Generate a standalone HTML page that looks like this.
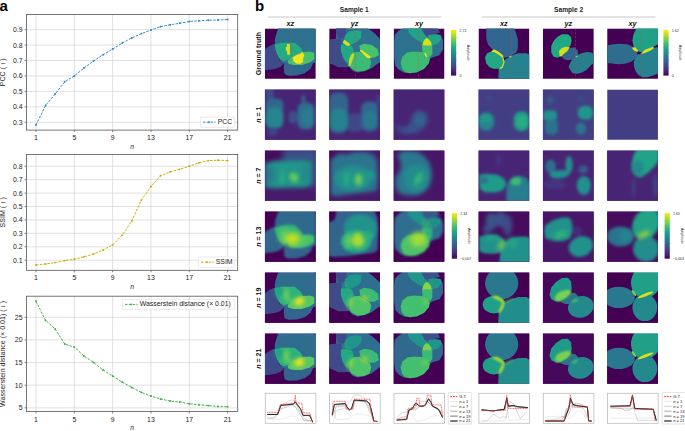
<!DOCTYPE html>
<html><head><meta charset="utf-8"><style>
html,body{margin:0;padding:0;background:#fff;}
svg{display:block;}
</style></head><body>
<svg width="685" height="431" viewBox="0 0 685 431">
<defs><linearGradient id="vgrad" x1="0" y1="1" x2="0" y2="0"><stop offset="0.000" stop-color="#440154"/><stop offset="0.050" stop-color="#471365"/><stop offset="0.100" stop-color="#482475"/><stop offset="0.150" stop-color="#463480"/><stop offset="0.200" stop-color="#414487"/><stop offset="0.250" stop-color="#3b528b"/><stop offset="0.300" stop-color="#355f8d"/><stop offset="0.350" stop-color="#2f6c8e"/><stop offset="0.400" stop-color="#2a788e"/><stop offset="0.450" stop-color="#25848e"/><stop offset="0.500" stop-color="#21918c"/><stop offset="0.550" stop-color="#1e9c89"/><stop offset="0.600" stop-color="#22a884"/><stop offset="0.650" stop-color="#2fb47c"/><stop offset="0.700" stop-color="#44bf70"/><stop offset="0.750" stop-color="#5ec962"/><stop offset="0.800" stop-color="#7ad151"/><stop offset="0.850" stop-color="#9bd93c"/><stop offset="0.900" stop-color="#bddf26"/><stop offset="0.950" stop-color="#dfe318"/><stop offset="1.000" stop-color="#fde725"/></linearGradient><clipPath id="ic" clipPathUnits="userSpaceOnUse"><rect x="0" y="0" width="50.8" height="50.35"/></clipPath><filter id="bl0_5" filterUnits="userSpaceOnUse" x="-30" y="-30" width="110" height="110" color-interpolation-filters="sRGB"><feGaussianBlur stdDeviation="0.5"/></filter><filter id="bl0_7" filterUnits="userSpaceOnUse" x="-30" y="-30" width="110" height="110" color-interpolation-filters="sRGB"><feGaussianBlur stdDeviation="0.7"/></filter><filter id="bl0_9" filterUnits="userSpaceOnUse" x="-30" y="-30" width="110" height="110" color-interpolation-filters="sRGB"><feGaussianBlur stdDeviation="0.9"/></filter><filter id="bl1_0" filterUnits="userSpaceOnUse" x="-30" y="-30" width="110" height="110" color-interpolation-filters="sRGB"><feGaussianBlur stdDeviation="1"/></filter><filter id="bl1_2" filterUnits="userSpaceOnUse" x="-30" y="-30" width="110" height="110" color-interpolation-filters="sRGB"><feGaussianBlur stdDeviation="1.2"/></filter><filter id="bl1_4" filterUnits="userSpaceOnUse" x="-30" y="-30" width="110" height="110" color-interpolation-filters="sRGB"><feGaussianBlur stdDeviation="1.4"/></filter><filter id="bl1_5" filterUnits="userSpaceOnUse" x="-30" y="-30" width="110" height="110" color-interpolation-filters="sRGB"><feGaussianBlur stdDeviation="1.5"/></filter><filter id="bl1_6" filterUnits="userSpaceOnUse" x="-30" y="-30" width="110" height="110" color-interpolation-filters="sRGB"><feGaussianBlur stdDeviation="1.6"/></filter><filter id="bl1_7" filterUnits="userSpaceOnUse" x="-30" y="-30" width="110" height="110" color-interpolation-filters="sRGB"><feGaussianBlur stdDeviation="1.7"/></filter><filter id="bl1_8" filterUnits="userSpaceOnUse" x="-30" y="-30" width="110" height="110" color-interpolation-filters="sRGB"><feGaussianBlur stdDeviation="1.8"/></filter><filter id="bl2_0" filterUnits="userSpaceOnUse" x="-30" y="-30" width="110" height="110" color-interpolation-filters="sRGB"><feGaussianBlur stdDeviation="2"/></filter><filter id="bl2_2" filterUnits="userSpaceOnUse" x="-30" y="-30" width="110" height="110" color-interpolation-filters="sRGB"><feGaussianBlur stdDeviation="2.2"/></filter><filter id="bl2_4" filterUnits="userSpaceOnUse" x="-30" y="-30" width="110" height="110" color-interpolation-filters="sRGB"><feGaussianBlur stdDeviation="2.4"/></filter><filter id="bl2_5" filterUnits="userSpaceOnUse" x="-30" y="-30" width="110" height="110" color-interpolation-filters="sRGB"><feGaussianBlur stdDeviation="2.5"/></filter><filter id="bl2_6" filterUnits="userSpaceOnUse" x="-30" y="-30" width="110" height="110" color-interpolation-filters="sRGB"><feGaussianBlur stdDeviation="2.6"/></filter><filter id="bl2_8" filterUnits="userSpaceOnUse" x="-30" y="-30" width="110" height="110" color-interpolation-filters="sRGB"><feGaussianBlur stdDeviation="2.8"/></filter><filter id="bl3_0" filterUnits="userSpaceOnUse" x="-30" y="-30" width="110" height="110" color-interpolation-filters="sRGB"><feGaussianBlur stdDeviation="3"/></filter></defs>
<rect width="685" height="431" fill="#fff"/>
<text x="-0.4" y="10.9" font-size="15" font-weight="bold" font-family="Liberation Sans, sans-serif" fill="#000">a</text>
<line x1="36.00" y1="14.40" x2="36.00" y2="130.10" stroke="#d4d4d4" stroke-width="0.7"/>
<line x1="74.32" y1="14.40" x2="74.32" y2="130.10" stroke="#d4d4d4" stroke-width="0.7"/>
<line x1="112.64" y1="14.40" x2="112.64" y2="130.10" stroke="#d4d4d4" stroke-width="0.7"/>
<line x1="150.96" y1="14.40" x2="150.96" y2="130.10" stroke="#d4d4d4" stroke-width="0.7"/>
<line x1="189.28" y1="14.40" x2="189.28" y2="130.10" stroke="#d4d4d4" stroke-width="0.7"/>
<line x1="227.60" y1="14.40" x2="227.60" y2="130.10" stroke="#d4d4d4" stroke-width="0.7"/>
<line x1="26.50" y1="122.30" x2="237.70" y2="122.30" stroke="#d4d4d4" stroke-width="0.7"/>
<line x1="26.50" y1="106.85" x2="237.70" y2="106.85" stroke="#d4d4d4" stroke-width="0.7"/>
<line x1="26.50" y1="91.40" x2="237.70" y2="91.40" stroke="#d4d4d4" stroke-width="0.7"/>
<line x1="26.50" y1="75.95" x2="237.70" y2="75.95" stroke="#d4d4d4" stroke-width="0.7"/>
<line x1="26.50" y1="60.50" x2="237.70" y2="60.50" stroke="#d4d4d4" stroke-width="0.7"/>
<line x1="26.50" y1="45.05" x2="237.70" y2="45.05" stroke="#d4d4d4" stroke-width="0.7"/>
<line x1="26.50" y1="29.60" x2="237.70" y2="29.60" stroke="#d4d4d4" stroke-width="0.7"/>
<rect x="26.50" y="14.40" width="211.20" height="115.70" fill="none" stroke="#555" stroke-width="0.8"/>
<line x1="36.00" y1="130.10" x2="36.00" y2="132.10" stroke="#555" stroke-width="0.7"/>
<text x="36.00" y="140.20" font-size="6.9" text-anchor="middle" font-family="Liberation Sans, sans-serif" fill="#222">1</text>
<line x1="74.32" y1="130.10" x2="74.32" y2="132.10" stroke="#555" stroke-width="0.7"/>
<text x="74.32" y="140.20" font-size="6.9" text-anchor="middle" font-family="Liberation Sans, sans-serif" fill="#222">5</text>
<line x1="112.64" y1="130.10" x2="112.64" y2="132.10" stroke="#555" stroke-width="0.7"/>
<text x="112.64" y="140.20" font-size="6.9" text-anchor="middle" font-family="Liberation Sans, sans-serif" fill="#222">9</text>
<line x1="150.96" y1="130.10" x2="150.96" y2="132.10" stroke="#555" stroke-width="0.7"/>
<text x="150.96" y="140.20" font-size="6.9" text-anchor="middle" font-family="Liberation Sans, sans-serif" fill="#222">13</text>
<line x1="189.28" y1="130.10" x2="189.28" y2="132.10" stroke="#555" stroke-width="0.7"/>
<text x="189.28" y="140.20" font-size="6.9" text-anchor="middle" font-family="Liberation Sans, sans-serif" fill="#222">17</text>
<line x1="227.60" y1="130.10" x2="227.60" y2="132.10" stroke="#555" stroke-width="0.7"/>
<text x="227.60" y="140.20" font-size="6.9" text-anchor="middle" font-family="Liberation Sans, sans-serif" fill="#222">21</text>
<line x1="24.50" y1="122.30" x2="26.50" y2="122.30" stroke="#555" stroke-width="0.7"/>
<text x="22.50" y="124.75" font-size="6.9" text-anchor="end" font-family="Liberation Sans, sans-serif" fill="#222">0.3</text>
<line x1="24.50" y1="106.85" x2="26.50" y2="106.85" stroke="#555" stroke-width="0.7"/>
<text x="22.50" y="109.30" font-size="6.9" text-anchor="end" font-family="Liberation Sans, sans-serif" fill="#222">0.4</text>
<line x1="24.50" y1="91.40" x2="26.50" y2="91.40" stroke="#555" stroke-width="0.7"/>
<text x="22.50" y="93.85" font-size="6.9" text-anchor="end" font-family="Liberation Sans, sans-serif" fill="#222">0.5</text>
<line x1="24.50" y1="75.95" x2="26.50" y2="75.95" stroke="#555" stroke-width="0.7"/>
<text x="22.50" y="78.40" font-size="6.9" text-anchor="end" font-family="Liberation Sans, sans-serif" fill="#222">0.6</text>
<line x1="24.50" y1="60.50" x2="26.50" y2="60.50" stroke="#555" stroke-width="0.7"/>
<text x="22.50" y="62.95" font-size="6.9" text-anchor="end" font-family="Liberation Sans, sans-serif" fill="#222">0.7</text>
<line x1="24.50" y1="45.05" x2="26.50" y2="45.05" stroke="#555" stroke-width="0.7"/>
<text x="22.50" y="47.50" font-size="6.9" text-anchor="end" font-family="Liberation Sans, sans-serif" fill="#222">0.8</text>
<line x1="24.50" y1="29.60" x2="26.50" y2="29.60" stroke="#555" stroke-width="0.7"/>
<text x="22.50" y="32.05" font-size="6.9" text-anchor="end" font-family="Liberation Sans, sans-serif" fill="#222">0.9</text>
<text x="132.1" y="148.80" font-size="6.7" font-style="italic" text-anchor="middle" font-family="Liberation Sans, sans-serif" fill="#222">n</text>
<text transform="translate(4.8,72.25) rotate(-90)" font-size="7.05" text-anchor="middle" font-family="Liberation Sans, sans-serif" fill="#222">PCC ( ↑ )</text>
<polyline points="36.00,124.93 45.58,105.46 55.16,94.03 64.74,81.67 74.32,75.95 83.90,68.07 93.48,60.96 103.06,54.71 112.64,49.07 122.22,43.04 131.80,37.94 141.38,33.62 150.96,30.06 160.54,26.66 170.12,24.81 179.70,23.27 189.28,21.57 198.86,20.79 208.44,20.18 218.02,20.02 227.60,19.56" fill="none" stroke="#2589cc" stroke-width="0.95" stroke-dasharray="2.5,1.3"/>
<circle cx="36.00" cy="124.93" r="0.95" fill="#2589cc"/>
<circle cx="45.58" cy="105.46" r="0.95" fill="#2589cc"/>
<circle cx="55.16" cy="94.03" r="0.95" fill="#2589cc"/>
<circle cx="64.74" cy="81.67" r="0.95" fill="#2589cc"/>
<circle cx="74.32" cy="75.95" r="0.95" fill="#2589cc"/>
<circle cx="83.90" cy="68.07" r="0.95" fill="#2589cc"/>
<circle cx="93.48" cy="60.96" r="0.95" fill="#2589cc"/>
<circle cx="103.06" cy="54.71" r="0.95" fill="#2589cc"/>
<circle cx="112.64" cy="49.07" r="0.95" fill="#2589cc"/>
<circle cx="122.22" cy="43.04" r="0.95" fill="#2589cc"/>
<circle cx="131.80" cy="37.94" r="0.95" fill="#2589cc"/>
<circle cx="141.38" cy="33.62" r="0.95" fill="#2589cc"/>
<circle cx="150.96" cy="30.06" r="0.95" fill="#2589cc"/>
<circle cx="160.54" cy="26.66" r="0.95" fill="#2589cc"/>
<circle cx="170.12" cy="24.81" r="0.95" fill="#2589cc"/>
<circle cx="179.70" cy="23.27" r="0.95" fill="#2589cc"/>
<circle cx="189.28" cy="21.57" r="0.95" fill="#2589cc"/>
<circle cx="198.86" cy="20.79" r="0.95" fill="#2589cc"/>
<circle cx="208.44" cy="20.18" r="0.95" fill="#2589cc"/>
<circle cx="218.02" cy="20.02" r="0.95" fill="#2589cc"/>
<circle cx="227.60" cy="19.56" r="0.95" fill="#2589cc"/>
<rect x="200.40" y="117.10" width="34.20" height="10.20" rx="1" fill="#fff" fill-opacity="0.85" stroke="#dcdcdc" stroke-width="0.6"/>
<line x1="203.00" y1="122.20" x2="215.60" y2="122.20" stroke="#2589cc" stroke-width="0.95" stroke-dasharray="2.5,1.3"/>
<circle cx="209.00" cy="122.20" r="0.95" fill="#2589cc"/>
<text x="217.70" y="124.10" font-size="6.9" font-family="Liberation Sans, sans-serif" fill="#222">PCC</text>
<line x1="36.00" y1="154.40" x2="36.00" y2="270.30" stroke="#d4d4d4" stroke-width="0.7"/>
<line x1="74.32" y1="154.40" x2="74.32" y2="270.30" stroke="#d4d4d4" stroke-width="0.7"/>
<line x1="112.64" y1="154.40" x2="112.64" y2="270.30" stroke="#d4d4d4" stroke-width="0.7"/>
<line x1="150.96" y1="154.40" x2="150.96" y2="270.30" stroke="#d4d4d4" stroke-width="0.7"/>
<line x1="189.28" y1="154.40" x2="189.28" y2="270.30" stroke="#d4d4d4" stroke-width="0.7"/>
<line x1="227.60" y1="154.40" x2="227.60" y2="270.30" stroke="#d4d4d4" stroke-width="0.7"/>
<line x1="26.50" y1="260.20" x2="237.70" y2="260.20" stroke="#d4d4d4" stroke-width="0.7"/>
<line x1="26.50" y1="246.78" x2="237.70" y2="246.78" stroke="#d4d4d4" stroke-width="0.7"/>
<line x1="26.50" y1="233.36" x2="237.70" y2="233.36" stroke="#d4d4d4" stroke-width="0.7"/>
<line x1="26.50" y1="219.94" x2="237.70" y2="219.94" stroke="#d4d4d4" stroke-width="0.7"/>
<line x1="26.50" y1="206.52" x2="237.70" y2="206.52" stroke="#d4d4d4" stroke-width="0.7"/>
<line x1="26.50" y1="193.10" x2="237.70" y2="193.10" stroke="#d4d4d4" stroke-width="0.7"/>
<line x1="26.50" y1="179.68" x2="237.70" y2="179.68" stroke="#d4d4d4" stroke-width="0.7"/>
<line x1="26.50" y1="166.26" x2="237.70" y2="166.26" stroke="#d4d4d4" stroke-width="0.7"/>
<rect x="26.50" y="154.40" width="211.20" height="115.90" fill="none" stroke="#555" stroke-width="0.8"/>
<line x1="36.00" y1="270.30" x2="36.00" y2="272.30" stroke="#555" stroke-width="0.7"/>
<text x="36.00" y="280.40" font-size="6.9" text-anchor="middle" font-family="Liberation Sans, sans-serif" fill="#222">1</text>
<line x1="74.32" y1="270.30" x2="74.32" y2="272.30" stroke="#555" stroke-width="0.7"/>
<text x="74.32" y="280.40" font-size="6.9" text-anchor="middle" font-family="Liberation Sans, sans-serif" fill="#222">5</text>
<line x1="112.64" y1="270.30" x2="112.64" y2="272.30" stroke="#555" stroke-width="0.7"/>
<text x="112.64" y="280.40" font-size="6.9" text-anchor="middle" font-family="Liberation Sans, sans-serif" fill="#222">9</text>
<line x1="150.96" y1="270.30" x2="150.96" y2="272.30" stroke="#555" stroke-width="0.7"/>
<text x="150.96" y="280.40" font-size="6.9" text-anchor="middle" font-family="Liberation Sans, sans-serif" fill="#222">13</text>
<line x1="189.28" y1="270.30" x2="189.28" y2="272.30" stroke="#555" stroke-width="0.7"/>
<text x="189.28" y="280.40" font-size="6.9" text-anchor="middle" font-family="Liberation Sans, sans-serif" fill="#222">17</text>
<line x1="227.60" y1="270.30" x2="227.60" y2="272.30" stroke="#555" stroke-width="0.7"/>
<text x="227.60" y="280.40" font-size="6.9" text-anchor="middle" font-family="Liberation Sans, sans-serif" fill="#222">21</text>
<line x1="24.50" y1="260.20" x2="26.50" y2="260.20" stroke="#555" stroke-width="0.7"/>
<text x="22.50" y="262.65" font-size="6.9" text-anchor="end" font-family="Liberation Sans, sans-serif" fill="#222">0.1</text>
<line x1="24.50" y1="246.78" x2="26.50" y2="246.78" stroke="#555" stroke-width="0.7"/>
<text x="22.50" y="249.23" font-size="6.9" text-anchor="end" font-family="Liberation Sans, sans-serif" fill="#222">0.2</text>
<line x1="24.50" y1="233.36" x2="26.50" y2="233.36" stroke="#555" stroke-width="0.7"/>
<text x="22.50" y="235.81" font-size="6.9" text-anchor="end" font-family="Liberation Sans, sans-serif" fill="#222">0.3</text>
<line x1="24.50" y1="219.94" x2="26.50" y2="219.94" stroke="#555" stroke-width="0.7"/>
<text x="22.50" y="222.39" font-size="6.9" text-anchor="end" font-family="Liberation Sans, sans-serif" fill="#222">0.4</text>
<line x1="24.50" y1="206.52" x2="26.50" y2="206.52" stroke="#555" stroke-width="0.7"/>
<text x="22.50" y="208.97" font-size="6.9" text-anchor="end" font-family="Liberation Sans, sans-serif" fill="#222">0.5</text>
<line x1="24.50" y1="193.10" x2="26.50" y2="193.10" stroke="#555" stroke-width="0.7"/>
<text x="22.50" y="195.55" font-size="6.9" text-anchor="end" font-family="Liberation Sans, sans-serif" fill="#222">0.6</text>
<line x1="24.50" y1="179.68" x2="26.50" y2="179.68" stroke="#555" stroke-width="0.7"/>
<text x="22.50" y="182.13" font-size="6.9" text-anchor="end" font-family="Liberation Sans, sans-serif" fill="#222">0.7</text>
<line x1="24.50" y1="166.26" x2="26.50" y2="166.26" stroke="#555" stroke-width="0.7"/>
<text x="22.50" y="168.71" font-size="6.9" text-anchor="end" font-family="Liberation Sans, sans-serif" fill="#222">0.8</text>
<text x="132.1" y="289.40" font-size="6.7" font-style="italic" text-anchor="middle" font-family="Liberation Sans, sans-serif" fill="#222">n</text>
<text transform="translate(4.8,212.35) rotate(-90)" font-size="7.05" text-anchor="middle" font-family="Liberation Sans, sans-serif" fill="#222">SSIM ( ↑ )</text>
<polyline points="36.00,265.03 45.58,263.96 55.16,262.62 64.74,260.60 74.32,259.26 83.90,256.84 93.48,254.03 103.06,250.00 112.64,244.90 122.22,235.10 131.80,220.88 141.38,200.08 150.96,186.52 160.54,175.79 170.12,171.76 179.70,169.35 189.28,166.26 198.86,162.77 208.44,160.62 218.02,160.22 227.60,160.62" fill="none" stroke="#c9ad00" stroke-width="0.95" stroke-dasharray="2.5,1.3"/>
<circle cx="36.00" cy="265.03" r="0.95" fill="#c9ad00"/>
<circle cx="45.58" cy="263.96" r="0.95" fill="#c9ad00"/>
<circle cx="55.16" cy="262.62" r="0.95" fill="#c9ad00"/>
<circle cx="64.74" cy="260.60" r="0.95" fill="#c9ad00"/>
<circle cx="74.32" cy="259.26" r="0.95" fill="#c9ad00"/>
<circle cx="83.90" cy="256.84" r="0.95" fill="#c9ad00"/>
<circle cx="93.48" cy="254.03" r="0.95" fill="#c9ad00"/>
<circle cx="103.06" cy="250.00" r="0.95" fill="#c9ad00"/>
<circle cx="112.64" cy="244.90" r="0.95" fill="#c9ad00"/>
<circle cx="122.22" cy="235.10" r="0.95" fill="#c9ad00"/>
<circle cx="131.80" cy="220.88" r="0.95" fill="#c9ad00"/>
<circle cx="141.38" cy="200.08" r="0.95" fill="#c9ad00"/>
<circle cx="150.96" cy="186.52" r="0.95" fill="#c9ad00"/>
<circle cx="160.54" cy="175.79" r="0.95" fill="#c9ad00"/>
<circle cx="170.12" cy="171.76" r="0.95" fill="#c9ad00"/>
<circle cx="179.70" cy="169.35" r="0.95" fill="#c9ad00"/>
<circle cx="189.28" cy="166.26" r="0.95" fill="#c9ad00"/>
<circle cx="198.86" cy="162.77" r="0.95" fill="#c9ad00"/>
<circle cx="208.44" cy="160.62" r="0.95" fill="#c9ad00"/>
<circle cx="218.02" cy="160.22" r="0.95" fill="#c9ad00"/>
<circle cx="227.60" cy="160.62" r="0.95" fill="#c9ad00"/>
<rect x="198.40" y="257.00" width="36.20" height="10.40" rx="1" fill="#fff" fill-opacity="0.85" stroke="#dcdcdc" stroke-width="0.6"/>
<line x1="201.00" y1="262.20" x2="213.60" y2="262.20" stroke="#c9ad00" stroke-width="0.95" stroke-dasharray="2.5,1.3"/>
<circle cx="207.00" cy="262.20" r="0.95" fill="#c9ad00"/>
<text x="215.70" y="264.10" font-size="6.9" font-family="Liberation Sans, sans-serif" fill="#222">SSIM</text>
<line x1="36.00" y1="296.20" x2="36.00" y2="411.50" stroke="#d4d4d4" stroke-width="0.7"/>
<line x1="74.32" y1="296.20" x2="74.32" y2="411.50" stroke="#d4d4d4" stroke-width="0.7"/>
<line x1="112.64" y1="296.20" x2="112.64" y2="411.50" stroke="#d4d4d4" stroke-width="0.7"/>
<line x1="150.96" y1="296.20" x2="150.96" y2="411.50" stroke="#d4d4d4" stroke-width="0.7"/>
<line x1="189.28" y1="296.20" x2="189.28" y2="411.50" stroke="#d4d4d4" stroke-width="0.7"/>
<line x1="227.60" y1="296.20" x2="227.60" y2="411.50" stroke="#d4d4d4" stroke-width="0.7"/>
<line x1="26.50" y1="407.85" x2="237.70" y2="407.85" stroke="#d4d4d4" stroke-width="0.7"/>
<line x1="26.50" y1="385.20" x2="237.70" y2="385.20" stroke="#d4d4d4" stroke-width="0.7"/>
<line x1="26.50" y1="362.55" x2="237.70" y2="362.55" stroke="#d4d4d4" stroke-width="0.7"/>
<line x1="26.50" y1="339.90" x2="237.70" y2="339.90" stroke="#d4d4d4" stroke-width="0.7"/>
<line x1="26.50" y1="317.25" x2="237.70" y2="317.25" stroke="#d4d4d4" stroke-width="0.7"/>
<rect x="26.50" y="296.20" width="211.20" height="115.30" fill="none" stroke="#555" stroke-width="0.8"/>
<line x1="36.00" y1="411.50" x2="36.00" y2="413.50" stroke="#555" stroke-width="0.7"/>
<text x="36.00" y="421.60" font-size="6.9" text-anchor="middle" font-family="Liberation Sans, sans-serif" fill="#222">1</text>
<line x1="74.32" y1="411.50" x2="74.32" y2="413.50" stroke="#555" stroke-width="0.7"/>
<text x="74.32" y="421.60" font-size="6.9" text-anchor="middle" font-family="Liberation Sans, sans-serif" fill="#222">5</text>
<line x1="112.64" y1="411.50" x2="112.64" y2="413.50" stroke="#555" stroke-width="0.7"/>
<text x="112.64" y="421.60" font-size="6.9" text-anchor="middle" font-family="Liberation Sans, sans-serif" fill="#222">9</text>
<line x1="150.96" y1="411.50" x2="150.96" y2="413.50" stroke="#555" stroke-width="0.7"/>
<text x="150.96" y="421.60" font-size="6.9" text-anchor="middle" font-family="Liberation Sans, sans-serif" fill="#222">13</text>
<line x1="189.28" y1="411.50" x2="189.28" y2="413.50" stroke="#555" stroke-width="0.7"/>
<text x="189.28" y="421.60" font-size="6.9" text-anchor="middle" font-family="Liberation Sans, sans-serif" fill="#222">17</text>
<line x1="227.60" y1="411.50" x2="227.60" y2="413.50" stroke="#555" stroke-width="0.7"/>
<text x="227.60" y="421.60" font-size="6.9" text-anchor="middle" font-family="Liberation Sans, sans-serif" fill="#222">21</text>
<line x1="24.50" y1="407.85" x2="26.50" y2="407.85" stroke="#555" stroke-width="0.7"/>
<text x="22.50" y="410.30" font-size="6.9" text-anchor="end" font-family="Liberation Sans, sans-serif" fill="#222">5</text>
<line x1="24.50" y1="385.20" x2="26.50" y2="385.20" stroke="#555" stroke-width="0.7"/>
<text x="22.50" y="387.65" font-size="6.9" text-anchor="end" font-family="Liberation Sans, sans-serif" fill="#222">10</text>
<line x1="24.50" y1="362.55" x2="26.50" y2="362.55" stroke="#555" stroke-width="0.7"/>
<text x="22.50" y="365.00" font-size="6.9" text-anchor="end" font-family="Liberation Sans, sans-serif" fill="#222">15</text>
<line x1="24.50" y1="339.90" x2="26.50" y2="339.90" stroke="#555" stroke-width="0.7"/>
<text x="22.50" y="342.35" font-size="6.9" text-anchor="end" font-family="Liberation Sans, sans-serif" fill="#222">20</text>
<line x1="24.50" y1="317.25" x2="26.50" y2="317.25" stroke="#555" stroke-width="0.7"/>
<text x="22.50" y="319.70" font-size="6.9" text-anchor="end" font-family="Liberation Sans, sans-serif" fill="#222">25</text>
<text x="132.1" y="430.20" font-size="6.7" font-style="italic" text-anchor="middle" font-family="Liberation Sans, sans-serif" fill="#222">n</text>
<text transform="translate(4.8,353.85) rotate(-90)" font-size="7.05" text-anchor="middle" font-family="Liberation Sans, sans-serif" fill="#222">Wasserstein distance (× 0.01) ( ↓ )</text>
<polyline points="36.00,301.26 45.58,320.42 55.16,329.03 64.74,343.98 74.32,347.15 83.90,355.98 93.48,362.41 103.06,369.98 112.64,376.00 122.22,382.03 131.80,387.46 141.38,392.40 150.96,396.07 160.54,399.02 170.12,401.06 179.70,401.96 189.28,403.77 198.86,404.68 208.44,405.58 218.02,406.49 227.60,406.72" fill="none" stroke="#3aae40" stroke-width="0.95" stroke-dasharray="2.5,1.3"/>
<circle cx="36.00" cy="301.26" r="0.95" fill="#3aae40"/>
<circle cx="45.58" cy="320.42" r="0.95" fill="#3aae40"/>
<circle cx="55.16" cy="329.03" r="0.95" fill="#3aae40"/>
<circle cx="64.74" cy="343.98" r="0.95" fill="#3aae40"/>
<circle cx="74.32" cy="347.15" r="0.95" fill="#3aae40"/>
<circle cx="83.90" cy="355.98" r="0.95" fill="#3aae40"/>
<circle cx="93.48" cy="362.41" r="0.95" fill="#3aae40"/>
<circle cx="103.06" cy="369.98" r="0.95" fill="#3aae40"/>
<circle cx="112.64" cy="376.00" r="0.95" fill="#3aae40"/>
<circle cx="122.22" cy="382.03" r="0.95" fill="#3aae40"/>
<circle cx="131.80" cy="387.46" r="0.95" fill="#3aae40"/>
<circle cx="141.38" cy="392.40" r="0.95" fill="#3aae40"/>
<circle cx="150.96" cy="396.07" r="0.95" fill="#3aae40"/>
<circle cx="160.54" cy="399.02" r="0.95" fill="#3aae40"/>
<circle cx="170.12" cy="401.06" r="0.95" fill="#3aae40"/>
<circle cx="179.70" cy="401.96" r="0.95" fill="#3aae40"/>
<circle cx="189.28" cy="403.77" r="0.95" fill="#3aae40"/>
<circle cx="198.86" cy="404.68" r="0.95" fill="#3aae40"/>
<circle cx="208.44" cy="405.58" r="0.95" fill="#3aae40"/>
<circle cx="218.02" cy="406.49" r="0.95" fill="#3aae40"/>
<circle cx="227.60" cy="406.72" r="0.95" fill="#3aae40"/>
<rect x="122.40" y="299.40" width="112.20" height="10.00" rx="1" fill="#fff" fill-opacity="0.85" stroke="#dcdcdc" stroke-width="0.6"/>
<line x1="125.00" y1="304.40" x2="137.60" y2="304.40" stroke="#3aae40" stroke-width="0.95" stroke-dasharray="2.5,1.3"/>
<circle cx="131.00" cy="304.40" r="0.95" fill="#3aae40"/>
<text x="139.70" y="306.30" font-size="6.9" font-family="Liberation Sans, sans-serif" fill="#222">Wasserstein distance (× 0.01)</text>
<text x="255.0" y="10.8" font-size="15" font-weight="bold" font-family="Liberation Sans, sans-serif" fill="#000">b</text>
<text x="354.3" y="12.4" font-size="6.6" font-weight="bold" text-anchor="middle" font-family="Liberation Sans, sans-serif" fill="#222">Sample 1</text>
<text x="568.6" y="12.4" font-size="6.6" font-weight="bold" text-anchor="middle" font-family="Liberation Sans, sans-serif" fill="#222">Sample 2</text>
<line x1="267.8" y1="17.0" x2="441.4" y2="17.0" stroke="#c8c8c8" stroke-width="1"/>
<line x1="482.0" y1="17.0" x2="655.4" y2="17.0" stroke="#c8c8c8" stroke-width="1"/>
<text x="290.30" y="25.6" font-size="7.2" font-weight="bold" font-style="italic" text-anchor="middle" font-family="Liberation Sans, sans-serif" fill="#111">xz</text>
<text x="354.60" y="25.6" font-size="7.2" font-weight="bold" font-style="italic" text-anchor="middle" font-family="Liberation Sans, sans-serif" fill="#111">yz</text>
<text x="419.00" y="25.6" font-size="7.2" font-weight="bold" font-style="italic" text-anchor="middle" font-family="Liberation Sans, sans-serif" fill="#111">xy</text>
<text x="503.90" y="25.6" font-size="7.2" font-weight="bold" font-style="italic" text-anchor="middle" font-family="Liberation Sans, sans-serif" fill="#111">xz</text>
<text x="568.30" y="25.6" font-size="7.2" font-weight="bold" font-style="italic" text-anchor="middle" font-family="Liberation Sans, sans-serif" fill="#111">yz</text>
<text x="632.55" y="25.6" font-size="7.2" font-weight="bold" font-style="italic" text-anchor="middle" font-family="Liberation Sans, sans-serif" fill="#111">xy</text>
<text transform="translate(260.7,53.62) rotate(-90)" font-size="7" font-weight="bold" text-anchor="middle" font-family="Liberation Sans, sans-serif" fill="#111">Ground truth</text>
<text transform="translate(260.7,114.62) rotate(-90)" font-size="7" font-weight="bold" text-anchor="middle" font-family="Liberation Sans, sans-serif" fill="#111"><tspan font-style="italic">n</tspan> = 1</text>
<text transform="translate(260.7,175.62) rotate(-90)" font-size="7" font-weight="bold" text-anchor="middle" font-family="Liberation Sans, sans-serif" fill="#111"><tspan font-style="italic">n</tspan> = 7</text>
<text transform="translate(260.7,236.62) rotate(-90)" font-size="7" font-weight="bold" text-anchor="middle" font-family="Liberation Sans, sans-serif" fill="#111"><tspan font-style="italic">n</tspan> = 13</text>
<text transform="translate(260.7,297.62) rotate(-90)" font-size="7" font-weight="bold" text-anchor="middle" font-family="Liberation Sans, sans-serif" fill="#111"><tspan font-style="italic">n</tspan> = 19</text>
<text transform="translate(260.7,358.62) rotate(-90)" font-size="7" font-weight="bold" text-anchor="middle" font-family="Liberation Sans, sans-serif" fill="#111"><tspan font-style="italic">n</tspan> = 21</text>
<g transform="translate(264.9,28.45)">
<g clip-path="url(#ic)">
<rect x="0" y="0" width="51" height="51" fill="#440154"/>
<g>
<polygon points="14.0645,-1.63343 52.171,-1.63343 52.171,-0.45 48.6207,-0.45 51.1059,1.91686 51.1059,33.8695 47.4373,35.053 42.7036,38.6033 35.603,38.6033 23.7686,35.053 17.8515,35.053 13.1178,29.1358 10.1592,14.9346 9.80414,12.5678 10.5142,8.42574 11.9343,3.69201" fill="#2d718e"/>
<polygon points="-1.08343,21.4435 4.83373,17.3015 10.1592,14.9346 11.3426,23.2186 14.3012,31.5027 19.0349,35.053 15.4846,38.6033 10.7509,40.3784 4.83373,41.2068 -1.08343,41.6802" fill="#3f4a89"/>
<polygon points="19.0349,35.6447 21.9935,33.8695 28.5024,35.053 39.1533,35.053 46.8456,33.8695 48.029,35.053 45.6621,40.3784 39.745,44.7571 32.0527,47.124 23.7686,47.3607 19.6266,45.7038 18.7982,39.7867" fill="#31678e"/>
<polygon points="9.56746,16.118 16.668,14.3429 29.6858,14.3429 35.603,19.0766 37.9698,23.2186 28.5024,28.5441 23.7686,31.266 19.0349,32.9228 15.4846,30.9109 11.9343,25.5855 10.1592,19.6683" fill="#25aa82"/>
<polygon points="22.5852,32.9228 27.3189,27.9524 35.603,23.8104 45.0704,22.982 49.2124,24.6388 49.5675,30.5559 45.0704,34.1062 36.7864,36.4731 28.5024,36.4731 23.7686,35.2896" fill="#49c16d"/>
<polygon points="27.9107,29.1358 31.1059,26.7689 35.603,25.3488 37.3781,23.5737 39.3899,26.5322 38.2065,30.3192 38.2065,33.5145 35.603,35.2896 31.816,35.2896 28.5024,32.9228" fill="#f1e520"/>
<polygon points="21.9935,15.5263 24.9521,15.5263 25.1888,26.1772 22.3485,26.1772 21.9935,22.2719 20.8101,22.0352 20.8101,18.4849 21.9935,18.4849" fill="#d1e11e"/>
</g>
<line x1="26.5" y1="0" x2="26.5" y2="50.35" stroke="#e0403a" stroke-opacity="0.75" stroke-width="0.55" stroke-dasharray="2.2,1.6"/>
</g></g>
<g transform="translate(329.2,28.45)">
<g clip-path="url(#ic)">
<rect x="0" y="0" width="51" height="51" fill="#440154"/>
<g>
<polygon points="6.90059,-1.63343 38.8533,-1.63343 38.8533,0.141716 44.7704,4.28373 49.5041,9.01746 51.871,11.3843 51.871,32.6861 47.1373,36.2364 42.4036,39.7867 35.303,42.7453 28.2024,44.1654 23.4686,42.3902 19.9183,38.6033 11.6343,38.6033 0.983432,35.053 0.983432,11.3843 6.90059,10.2009" fill="#2d718e"/>
<polygon points="6.90059,-1.63343 17.5515,-1.63343 16.368,6.65059 14.0012,10.2009 9.26746,9.60917 8.08402,6.65059 6.90059,3.1003" fill="#3f4a89"/>
<polygon points="-1.38343,11.3843 6.90059,10.2009 11.6343,10.2009 12.8178,14.9346 12.226,23.2186 14.0012,30.3192 18.7349,37.6565 17.5515,38.8399 9.26746,38.8399 4.53373,36.4731 1.57515,34.1062 -1.38343,33.8695" fill="#3f4a89"/>
<polygon points="16.368,6.65059 19.9183,3.1003 27.0189,1.68018 32.3444,2.86361 31.9893,9.01746 28.4391,13.1595 23.4686,15.5263 19.3266,16.7098 15.7763,13.7512 14.9479,10.2009" fill="#22a884"/>
<polygon points="11.6343,16.118 17.5515,15.8814 22.8769,17.3015 24.6521,22.0352 24.0604,24.9938 20.5101,27.9524 19.3266,35.2896 16.368,32.9228 13.4095,27.9524 11.6343,22.0352" fill="#22a884"/>
<polygon points="29.9775,17.3015 35.303,15.2896 42.4036,16.4731 48.3207,20.6151 49.7408,26.7689 45.0071,29.3725 40.0367,29.3725 35.303,26.2956 31.1609,23.2186" fill="#49c16d"/>
<polygon points="20.5101,26.7689 24.6521,23.8104 30.5692,23.2186 35.303,26.7689 40.6284,29.7275 42.0485,33.8695 40.2734,40.0234 35.303,42.3902 28.2024,42.982 22.2852,40.0234 19.9183,36.2364" fill="#3cbb75"/>
<polygon points="13.4095,14.3429 15.1846,11.3843 20.8651,15.5263 20.155,17.5382 17.5515,16.9464" fill="#d8e21b"/>
<polygon points="30.5692,22.0352 31.9893,21.2068 41.4568,27.9524 40.8651,29.9642 37.6698,29.3725 34.1195,25.8222" fill="#ebe51d"/>
<polygon points="22.8769,24.9938 25.4805,24.9938 23.7053,30.5559 21.3385,37.6565 19.3266,37.6565 19.9183,30.5559" fill="#bddf26"/>
</g>
<line x1="26.2" y1="0" x2="26.2" y2="50.35" stroke="#e0403a" stroke-opacity="0.75" stroke-width="0.55" stroke-dasharray="2.2,1.6"/>
</g></g>
<g transform="translate(393.6,28.45)">
<g clip-path="url(#ic)">
<rect x="0" y="0" width="51" height="51" fill="#440154"/>
<g>
<polygon points="1.17515,6.65059 4.72544,2.50858 11.2343,-1.63343 39.6367,-1.63343 38.4533,5.46716 46.7373,6.65059 49.3408,11.3843 49.3408,20.8518 45.7905,26.7689 38.4533,29.1358 34.903,31.5027 30.1692,37.4198 23.0686,42.3902 17.1515,44.7571 10.0509,44.1654 5.31716,41.2068 1.76686,37.6565 0.583432,29.1358 0.583432,13.7512" fill="#2d718e"/>
<polygon points="14.1929,-1.63343 27.8024,-1.63343 30.1692,4.28373 33.7195,9.01746 31.3527,12.5678 27.8024,13.7512 23.0686,11.3843 18.3349,7.83402 14.7846,3.69201" fill="#20a386"/>
<polygon points="26.6189,-1.63343 43.4237,-1.63343 46.3822,4.28373 38.4533,6.05888 34.903,8.42574 31.3527,6.65059 28.9858,2.50858" fill="#3f4a89"/>
<polygon points="34.903,6.65059 42.0036,5.82219 46.974,6.65059 48.1574,10.2009 44.6071,14.9346 38.4533,16.9464 34.903,16.118 33.7195,11.3843" fill="#20a386"/>
<polygon points="28.3941,16.7098 38.6899,16.7098 38.6899,25.5855 36.6781,28.1891 32.5361,28.7808 28.9858,25.8222" fill="#44bf70"/>
<polygon points="33.1278,9.37249 34.903,10.5559 37.5065,13.7512 38.0982,16.9464 28.7491,16.9464 29.3408,13.7512 31.3527,10.7926" fill="#d1e11e"/>
<polygon points="8.86746,27.9524 13.6012,24.1654 20.7018,22.982 27.8024,23.5737 33.7195,26.5322 36.3231,30.3192 35.1396,35.053 30.4059,40.6151 23.0686,44.1654 15.968,44.7571 11.2343,43.5737 8.27574,40.0234 7.09231,33.8695" fill="#3cbb75"/>
<polygon points="30.4059,24.7571 31.826,24.4021 33.9562,27.9524 32.5361,28.7808" fill="#dfe318"/>
</g>
<line x1="25" y1="0" x2="25" y2="50.35" stroke="#e0403a" stroke-opacity="0.75" stroke-width="0.55" stroke-dasharray="2.2,1.6"/>
</g></g>
<g transform="translate(478.5,28.45)">
<g clip-path="url(#ic)">
<rect x="0" y="0" width="51" height="51" fill="#440154"/>
<g>
<polygon points="7.78402,-1.63343 35.003,-1.63343 37.6065,4.28373 39.3817,11.3843 39.3817,19.6683 37.6065,24.4021 33.8195,26.4139 30.2692,28.1891 26.7189,29.3725 23.1686,28.1891 18.4349,23.2186 13.7012,20.8518 9.55917,16.118 7.78402,10.2009" fill="#31678e"/>
<polygon points="20.2101,40.3784 21.3935,35.053 24.3521,32.6861 27.9024,30.3192 31.4527,27.9524 35.003,26.1772 39.7367,24.7571 48.0207,24.7571 51.571,26.7689 51.571,51.621 19.855,51.621" fill="#26828e"/>
<polygon points="12.5178,23.2186 15.4763,20.8518 20.2101,23.2186 24.3521,26.7689 26.1272,33.8695 24.1154,39.55 20.8018,40.7334 22.5769,35.053 22.5769,29.7275 19.0266,27.3607 14.8846,24.9938" fill="#e5e41b"/>
<polygon points="6.60059,29.1358 8.37574,24.9938 11.926,23.2186 16.068,23.8104 20.2101,26.1772 23.7604,29.1358 24.9438,33.8695 23.1686,38.6033 19.6183,40.3784 14.8846,40.3784 10.7426,38.6033 7.78402,35.053" fill="#22a884"/>
<polygon points="30.5059,27.7157 33.2278,27.0056 33.5828,28.6624 31.216,29.3725" fill="#7ad151"/>
</g>
<line x1="33" y1="0" x2="33" y2="50.35" stroke="#e0403a" stroke-opacity="0.75" stroke-width="0.55" stroke-dasharray="2.2,1.6"/>
</g></g>
<g transform="translate(542.9,28.45)">
<g clip-path="url(#ic)">
<rect x="0" y="0" width="51" height="51" fill="#440154"/>
<g>
<polygon points="27.3189,34.4612 29.6858,30.3192 33.2361,27.3607 37.9698,24.9938 43.887,23.5737 48.6207,24.1654 52.171,26.7689 52.171,32.6861 47.4373,37.6565 43.887,41.2068 39.1533,44.1654 34.4195,45.3488 29.6858,44.7571 27.3189,41.2068 25.5438,38.6033" fill="#277f8e"/>
<polygon points="8.38402,17.3015 10.7509,12.5678 14.3012,8.42574 19.0349,5.82219 24.9521,5.82219 28.1473,8.42574 28.7391,12.5678 27.5556,17.3015 23.7686,20.2601 20.2183,23.2186 17.8515,27.9524 14.3012,29.3725 10.7509,28.1891 8.38402,24.4021" fill="#22a884"/>
<polygon points="19.0349,28.1891 23.7686,22.6269 27.3189,19.4317 31.4609,18.8399 34.6562,22.0352 35.2479,26.1772 33.4728,29.3725 29.6858,31.1476 24.9521,31.7393 20.8101,30.5559" fill="#31678e"/>
<polygon points="16.0763,22.6269 19.0349,19.6683 23.1769,18.2482 26.9639,18.8399 24.597,22.6269 21.0467,25.5855 18.6799,27.9524 16.668,27.5973" fill="#cbe120"/>
<polygon points="32.2893,27.9524 34.4195,27.124 34.6562,28.6624 32.7627,29.1358" fill="#7ad151"/>
</g>
<line x1="32.6" y1="0" x2="32.6" y2="50.35" stroke="#e0403a" stroke-opacity="0.75" stroke-width="0.55" stroke-dasharray="2.2,1.6"/>
</g></g>
<g transform="translate(607.15,28.45)">
<g clip-path="url(#ic)">
<rect x="0" y="0" width="51" height="51" fill="#440154"/>
<g>
<polygon points="27.0689,4.28373 30.0275,-1.63343 51.921,-1.63343 51.921,14.9346 48.3707,17.3015 44.8204,19.0766 38.9033,21.4435 35.353,23.8104 31.8027,23.2186 28.8441,20.8518 26.4772,17.8932 25.2938,12.5678 25.8855,7.83402" fill="#20a187"/>
<polygon points="-1.33343,17.3015 4.58373,16.118 11.6843,15.2896 19.9683,15.8814 25.8855,18.2482 29.4358,22.6269 30.6192,26.7689 28.2524,30.3192 23.5186,33.5145 17.6015,35.2896 11.6843,35.8814 6.95059,35.2896 3.4003,34.6979 -1.33343,34.6979" fill="#2f6c8e"/>
<polygon points="28.2524,29.7275 30.6192,26.1772 35.353,24.4021 40.0867,22.0352 46.0038,19.6683 51.921,18.2482 51.921,44.5204 46.0038,47.124 40.0867,48.8991 35.353,48.8991 31.8027,47.124 28.8441,43.5737 27.0689,38.8399 26.4772,33.8695" fill="#26828e"/>
<polygon points="25.0571,19.0766 28.2524,18.8399 30.8559,22.0352 30.2642,23.5737 28.2524,22.8636 25.6488,21.0885" fill="#dfe318"/>
<polygon points="33.9328,24.9938 37.7198,21.2068 42.4536,19.4317 46.0038,18.2482 46.8322,19.6683 43.8737,21.6802 40.0867,23.4553 35.9447,25.3488" fill="#dfe318"/>
</g>
<line x1="34.2" y1="0" x2="34.2" y2="50.35" stroke="#e0403a" stroke-opacity="0.75" stroke-width="0.55" stroke-dasharray="2.2,1.6"/>
</g></g>
<g transform="translate(264.9,89.45)">
<g clip-path="url(#ic)">
<rect x="0" y="0" width="51" height="51" fill="#482475"/>
<g filter="url(#bl1_7)">
<rect x="-10" y="-10" width="70" height="70" fill="#482475"/>
<rect x="1" y="-3" width="8" height="14" rx="3" fill="#3f4a89"/>
<rect x="0.5" y="9" width="18" height="15" rx="6" fill="#31678e"/>
<rect x="0.5" y="18" width="18" height="21" rx="7" fill="#25848e"/>
<ellipse cx="8" cy="42" rx="5" ry="4" fill="#414487"/>
<ellipse cx="28" cy="28" rx="4.5" ry="6.5" fill="#3c4f8a"/>
<ellipse cx="38.5" cy="10" rx="2.5" ry="5" fill="#3b528b"/>
<rect x="32.5" y="13" width="17" height="27" rx="7" fill="#2e6e8e"/>
<ellipse cx="43" cy="27" rx="6" ry="9" fill="#287d8e"/>
</g>
</g></g>
<g transform="translate(329.2,89.45)">
<g clip-path="url(#ic)">
<rect x="0" y="0" width="51" height="51" fill="#482475"/>
<g filter="url(#bl1_7)">
<rect x="-10" y="-10" width="70" height="70" fill="#482475"/>
<rect x="18" y="24" width="15" height="18" rx="4" fill="#404788"/>
<rect x="0" y="3" width="19" height="41" rx="8" fill="#33648d"/>
<rect x="1" y="19" width="17" height="22" rx="7" fill="#26828e"/>
<rect x="32" y="12" width="17" height="30" rx="7" fill="#31678e"/>
<ellipse cx="41" cy="30" rx="7" ry="9" fill="#297a8e"/>
<ellipse cx="49" cy="10" rx="2" ry="5" fill="#414487"/>
</g>
</g></g>
<g transform="translate(393.6,89.45)">
<g clip-path="url(#ic)">
<rect x="0" y="0" width="51" height="51" fill="#482475"/>
<g filter="url(#bl2_2)">
<rect x="-10" y="-10" width="70" height="70" fill="#482475"/>
<polygon points="1.76686,33.8695 6.50059,38.6033 12.4178,37.4198 17.1515,32.6861 19.5183,24.4021 23.0686,20.8518 28.9858,21.4435 33.7195,24.9938 33.7195,32.6861 30.1692,38.6033 23.0686,43.337 13.6012,44.5204 6.50059,43.337 2.35858,38.6033" fill="#3b528b"/>
<ellipse cx="26.0272" cy="30.3192" rx="6.50888" ry="7.10059" fill="#34628d"/>
</g>
</g></g>
<g transform="translate(478.5,89.45)">
<g clip-path="url(#ic)">
<rect x="0" y="0" width="51" height="51" fill="#433e84"/>
<g filter="url(#bl1_7)">
<rect x="-10" y="-10" width="70" height="70" fill="#433e84"/>
<rect x="0" y="23" width="15.5" height="18" rx="7" fill="#25848e"/>
<ellipse cx="7" cy="28.5" rx="6.5" ry="4.5" fill="#1f988a"/>
<rect x="35.5" y="22" width="15" height="19.5" rx="7" fill="#20a386"/>
<ellipse cx="44" cy="32" rx="5" ry="6" fill="#27ad81"/>
<ellipse cx="10.5" cy="8.5" rx="2.5" ry="2.5" fill="#3c4f8a"/>
</g>
</g></g>
<g transform="translate(542.9,89.45)">
<g clip-path="url(#ic)">
<rect x="0" y="0" width="51" height="51" fill="#433e84"/>
<g filter="url(#bl1_7)">
<rect x="-10" y="-10" width="70" height="70" fill="#433e84"/>
<ellipse cx="7" cy="10.5" rx="3" ry="4.5" fill="#375a8c"/>
<rect x="0" y="21" width="14" height="10" rx="4" fill="#21918c"/>
<rect x="2" y="30" width="13" height="15" rx="5" fill="#2c738e"/>
<rect x="35" y="16.5" width="15" height="13.5" rx="6" fill="#1f988a"/>
<rect x="33" y="33" width="10" height="12" rx="5" fill="#2c738e"/>
<ellipse cx="38" cy="9" rx="2.5" ry="3.5" fill="#3c4f8a"/>
</g>
</g></g>
<g transform="translate(607.15,89.45)">
<g clip-path="url(#ic)">
<rect x="0" y="0" width="51" height="51" fill="#433e84"/>
<g>
</g>
</g></g>
<g transform="translate(264.9,150.45)">
<g clip-path="url(#ic)">
<rect x="0" y="0" width="51" height="51" fill="#471a6b"/>
<g filter="url(#bl3_0)">
<rect x="-10" y="-10" width="70" height="70" fill="#471a6b"/>
<ellipse cx="4.83373" cy="3.1003" rx="14.2012" ry="11.2426" fill="#460c5e"/>
<polygon points="17.8515,-1.63343 52.171,-1.63343 52.171,12.5678 17.8515,12.5678" fill="#3b528b"/>
<polygon points="47.4373,6.65059 52.171,6.65059 52.171,37.4198 47.4373,37.4198" fill="#355f8d"/>
</g>
<g filter="url(#bl2_2)">
<polygon points="0.1,13.1595 9.56746,10.2009 23.7686,9.60917 39.1533,9.60917 47.4373,11.3843 48.029,23.2186 46.8456,35.053 39.1533,37.4198 23.7686,37.1831 9.56746,38.0115 0.1,36.8281" fill="#20958b"/>
<ellipse cx="5.42544" cy="24.4021" rx="4.73373" ry="9.46746" fill="#287d8e"/>
<ellipse cx="17.2598" cy="26.7689" rx="2.13018" ry="7.69231" fill="#2aaf7f"/>
<ellipse cx="29.0941" cy="27.0056" rx="3.78698" ry="5.32544" fill="#6fce58" transform="rotate(-35 29.0941 27.0056)"/>
<ellipse cx="41.5201" cy="23.2186" rx="5.32544" ry="9.46746" fill="#23898d"/>
</g>
</g></g>
<g transform="translate(329.2,150.45)">
<g clip-path="url(#ic)">
<rect x="0" y="0" width="51" height="51" fill="#471a6b"/>
<g filter="url(#bl2_2)">
<rect x="-10" y="-10" width="70" height="70" fill="#471a6b"/>
<ellipse cx="2.16686" cy="1.91686" rx="7.10059" ry="5.91716" fill="#460c5e"/>
<polygon points="4.53373,6.65059 9.26746,3.1003 18.7349,4.28373 23.4686,1.91686 35.303,1.32515 44.7704,4.28373 48.3207,11.3843 48.9124,29.1358 48.3207,38.6033 44.7704,40.9701 23.4686,43.337 6.90059,45.7038 1.57515,44.5204 1.22012,11.3843" fill="#2c738e"/>
<ellipse cx="23.4686" cy="27.9524" rx="18.9349" ry="13.0178" fill="#21918c"/>
<ellipse cx="17.5515" cy="28.5441" rx="2.60355" ry="7.69231" fill="#27ad81"/>
<ellipse cx="29.3858" cy="29.1358" rx="3.78698" ry="6.15385" fill="#6fce58"/>
<ellipse cx="38.8533" cy="24.4021" rx="7.10059" ry="4.73373" fill="#1f9a8a"/>
</g>
</g></g>
<g transform="translate(393.6,150.45)">
<g clip-path="url(#ic)">
<rect x="0" y="0" width="51" height="51" fill="#471668"/>
<g filter="url(#bl2_2)">
<rect x="-10" y="-10" width="70" height="70" fill="#471668"/>
<polygon points="10.0509,0.141716 23.0686,0.733432 28.9858,4.28373 33.7195,9.01746 37.2698,16.118 38.4533,25.5855 36.0864,35.053 31.3527,40.9701 23.0686,45.1121 13.6012,45.1121 6.50059,43.337 1.76686,37.4198 1.76686,27.9524 4.13373,23.2186 7.68402,17.3015 6.50059,11.3843 4.13373,4.28373" fill="#2a788e"/>
<ellipse cx="23.0686" cy="27.9524" rx="13.0178" ry="14.2012" fill="#238c8d"/>
<ellipse cx="24.8438" cy="28.5441" rx="3.31361" ry="7.33728" fill="#33b67a" transform="rotate(30 24.8438 28.5441)"/>
</g>
</g></g>
<g transform="translate(478.5,150.45)">
<g clip-path="url(#ic)">
<rect x="0" y="0" width="51" height="51" fill="#482475"/>
<g filter="url(#bl1_8)">
<rect x="-10" y="-10" width="70" height="70" fill="#482475"/>
<polygon points="0.683432,24.4021 8.96746,23.2186 18.4349,24.4021 25.5355,27.9524 27.9024,33.8695 24.3521,39.7867 17.2515,42.1536 6.60059,42.1536 1.27515,38.6033" fill="#1e9c89"/>
<ellipse cx="6.00888" cy="29.7275" rx="3.5503" ry="3.5503" fill="#2c738e"/>
<polygon points="30.2692,30.3192 35.003,26.1772 40.9201,24.9938 46.8373,26.7689 51.571,31.5027 51.571,51.621 27.9024,51.621 27.9024,38.6033" fill="#287d8e"/>
<ellipse cx="37.3698" cy="30.9109" rx="5.32544" ry="4.14201" fill="#3cbb75"/>
<ellipse cx="20.2101" cy="9.60917" rx="2.36686" ry="5.32544" fill="#453781"/>
</g>
</g></g>
<g transform="translate(542.9,150.45)">
<g clip-path="url(#ic)">
<rect x="0" y="0" width="51" height="51" fill="#482475"/>
<g filter="url(#bl1_8)">
<rect x="-10" y="-10" width="70" height="70" fill="#482475"/>
<ellipse cx="7.79231" cy="16.118" rx="5.32544" ry="7.10059" fill="#2e6e8e"/>
<ellipse cx="16.668" cy="23.8104" rx="10.0592" ry="4.14201" fill="#21918c" transform="rotate(-5 16.668 23.8104)"/>
<ellipse cx="26.1355" cy="14.3429" rx="3.5503" ry="8.87574" fill="#21918c"/>
<ellipse cx="40.3367" cy="19.0766" rx="4.73373" ry="4.14201" fill="#375a8c"/>
<ellipse cx="40.9284" cy="35.053" rx="7.10059" ry="9.46746" fill="#21918c"/>
<ellipse cx="11.9343" cy="33.8695" rx="10.6509" ry="4.73373" fill="#463480"/>
</g>
</g></g>
<g transform="translate(607.15,150.45)">
<g clip-path="url(#ic)">
<rect x="0" y="0" width="51" height="51" fill="#482475"/>
<g filter="url(#bl1_6)">
<rect x="-10" y="-10" width="70" height="70" fill="#482475"/>
<polygon points="29.4358,-1.63343 51.921,-1.63343 51.921,10.2009 47.1873,16.118 41.2701,22.0352 34.1695,26.7689 29.4358,26.1772 25.2938,22.0352 24.1104,14.9346 25.8855,6.65059" fill="#20a386"/>
<ellipse cx="31.2109" cy="17.3015" rx="5.32544" ry="7.10059" fill="#24878e"/>
<ellipse cx="26.4772" cy="37.4198" rx="1.77515" ry="9.46746" fill="#433e84"/>
<ellipse cx="48.3707" cy="35.053" rx="2.95858" ry="11.8343" fill="#433e84"/>
</g>
</g></g>
<g transform="translate(264.9,211.45)">
<g clip-path="url(#ic)">
<rect x="0" y="0" width="51" height="51" fill="#440154"/>
<g filter="url(#bl1_0)">
<rect x="-10" y="-10" width="70" height="70" fill="#440154"/>
<polygon points="14.0645,-1.63343 52.171,-1.63343 52.171,-0.45 48.6207,-0.45 51.1059,1.91686 51.1059,33.8695 47.4373,35.053 42.7036,38.6033 35.603,38.6033 23.7686,35.053 17.8515,35.053 13.1178,29.1358 10.1592,14.9346 9.80414,12.5678 10.5142,8.42574 11.9343,3.69201" fill="#30698e"/>
<polygon points="-1.08343,21.4435 4.83373,17.3015 10.1592,14.9346 11.3426,23.2186 14.3012,31.5027 19.0349,35.053 15.4846,38.6033 10.7509,40.3784 4.83373,41.2068 -1.08343,41.6802" fill="#31678e"/>
<polygon points="19.0349,35.6447 21.9935,33.8695 28.5024,35.053 39.1533,35.053 46.8456,33.8695 48.029,35.053 45.6621,40.3784 39.745,44.7571 32.0527,47.124 23.7686,47.3607 19.6266,45.7038 18.7982,39.7867" fill="#34628d"/>
<polygon points="9.56746,16.118 16.668,14.3429 29.6858,14.3429 35.603,19.0766 37.9698,23.2186 28.5024,28.5441 23.7686,31.266 19.0349,32.9228 15.4846,30.9109 11.9343,25.5855 10.1592,19.6683" fill="#33b67a"/>
<polygon points="22.5852,32.9228 27.3189,27.9524 35.603,23.8104 45.0704,22.982 49.2124,24.6388 49.5675,30.5559 45.0704,34.1062 36.7864,36.4731 28.5024,36.4731 23.7686,35.2896" fill="#44bf70"/>
</g>
<g filter="url(#bl2_5)">
<ellipse cx="23.7686" cy="17.3015" rx="7.10059" ry="3.5503" fill="#33b67a"/>
<ellipse cx="19.0349" cy="24.9938" rx="4.49704" ry="7.69231" fill="#64cb5f"/>
<ellipse cx="27.9107" cy="27.3607" rx="7.69231" ry="6.50888" fill="#bddf26"/>
<ellipse cx="38.5615" cy="29.1358" rx="5.91716" ry="3.78698" fill="#59c765" transform="rotate(-20 38.5615 29.1358)"/>
</g>
</g></g>
<g transform="translate(329.2,211.45)">
<g clip-path="url(#ic)">
<rect x="0" y="0" width="51" height="51" fill="#440154"/>
<g filter="url(#bl1_0)">
<rect x="-10" y="-10" width="70" height="70" fill="#440154"/>
<polygon points="6.90059,-1.63343 44.7704,-1.63343 48.3207,6.65059 48.9124,23.2186 48.3207,38.6033 44.7704,41.2068 29.3858,42.982 17.5515,44.7571 4.53373,45.3488 0.983432,44.7571 -1.38343,44.5204 -1.38343,11.3843 4.53373,9.01746 6.90059,4.28373" fill="#33648d"/>
</g>
<g filter="url(#bl1_6)">
<ellipse cx="31.1609" cy="16.7098" rx="16.568" ry="14.2012" fill="#21918c"/>
<ellipse cx="27.0189" cy="29.7275" rx="15.3846" ry="11.2426" fill="#27ad81"/>
</g>
<g filter="url(#bl2_2)">
<ellipse cx="18.7349" cy="29.7275" rx="2.95858" ry="7.10059" fill="#64cb5f"/>
<ellipse cx="28.7941" cy="28.5441" rx="6.50888" ry="7.33728" fill="#a9db33"/>
<ellipse cx="38.8533" cy="24.4021" rx="5.91716" ry="4.49704" fill="#27ad81"/>
</g>
</g></g>
<g transform="translate(393.6,211.45)">
<g clip-path="url(#ic)">
<rect x="0" y="0" width="51" height="51" fill="#440154"/>
<g filter="url(#bl1_2)">
<rect x="-10" y="-10" width="70" height="70" fill="#440154"/>
<polygon points="1.17515,6.65059 4.72544,2.50858 11.2343,-1.63343 39.6367,-1.63343 38.4533,5.46716 46.7373,6.65059 49.3408,11.3843 49.3408,20.8518 45.7905,26.7689 38.4533,29.1358 34.903,31.5027 30.1692,37.4198 23.0686,42.3902 17.1515,44.7571 10.0509,44.1654 5.31716,41.2068 1.76686,37.6565 0.583432,29.1358 0.583432,13.7512" fill="#2e6e8e"/>
<polygon points="14.1929,-1.63343 27.8024,-1.63343 30.1692,4.28373 33.7195,9.01746 31.3527,12.5678 27.8024,13.7512 23.0686,11.3843 18.3349,7.83402 14.7846,3.69201" fill="#21918c"/>
<polygon points="26.6189,-1.63343 43.4237,-1.63343 46.3822,4.28373 38.4533,6.05888 34.903,8.42574 31.3527,6.65059 28.9858,2.50858" fill="#375a8c"/>
<polygon points="34.903,6.65059 42.0036,5.82219 46.974,6.65059 48.1574,10.2009 44.6071,14.9346 38.4533,16.9464 34.903,16.118 33.7195,11.3843" fill="#238c8d"/>
<polygon points="28.3941,16.7098 38.6899,16.7098 38.6899,25.5855 36.6781,28.1891 32.5361,28.7808 28.9858,25.8222" fill="#2cb27e"/>
<polygon points="8.86746,27.9524 13.6012,24.1654 20.7018,22.982 27.8024,23.5737 33.7195,26.5322 36.3231,30.3192 35.1396,35.053 30.4059,40.6151 23.0686,44.1654 15.968,44.7571 11.2343,43.5737 8.27574,40.0234 7.09231,33.8695" fill="#4ec36a"/>
</g>
<g filter="url(#bl2_6)">
<ellipse cx="24.8438" cy="27.9524" rx="8.28402" ry="7.33728" fill="#a2da38"/>
<ellipse cx="32.5361" cy="14.9346" rx="2.60355" ry="6.50888" fill="#3cbb75"/>
</g>
</g></g>
<g transform="translate(478.5,211.45)">
<g clip-path="url(#ic)">
<rect x="0" y="0" width="51" height="51" fill="#460c5e"/>
<g filter="url(#bl2_2)">
<rect x="-10" y="-10" width="70" height="70" fill="#460c5e"/>
<ellipse cx="12.5178" cy="10.2009" rx="5.32544" ry="9.46746" fill="#3a558b"/>
<ellipse cx="21.9852" cy="7.83402" rx="5.91716" ry="8.28402" fill="#3c4f8a"/>
<ellipse cx="29.0858" cy="13.7512" rx="4.73373" ry="10.6509" fill="#3f4a89"/>
<ellipse cx="7.78402" cy="18.4849" rx="2.95858" ry="4.73373" fill="#3c4f8a"/>
</g>
<g filter="url(#bl1_2)">
<polygon points="0.683432,24.9938 8.96746,23.2186 18.4349,23.8104 25.5355,27.9524 27.3107,33.8695 24.3521,39.7867 17.2515,42.3902 6.60059,42.1536 0.683432,39.7867" fill="#21918c"/>
<polygon points="20.8018,51.621 21.9852,38.6033 26.7189,30.3192 33.8195,26.1772 40.9201,24.9938 48.0207,24.9938 51.571,26.7689 51.571,51.621" fill="#21918c"/>
</g>
<g filter="url(#bl2_8)">
<ellipse cx="13.7012" cy="26.1772" rx="8.28402" ry="2.36686" fill="#22a884"/>
<ellipse cx="33.8195" cy="31.5027" rx="5.32544" ry="4.73373" fill="#22a884"/>
<ellipse cx="22.932" cy="33.8695" rx="2.13018" ry="5.32544" fill="#94d740" transform="rotate(25 22.932 33.8695)"/>
</g>
</g></g>
<g transform="translate(542.9,211.45)">
<g clip-path="url(#ic)">
<rect x="0" y="0" width="51" height="51" fill="#471668"/>
<g filter="url(#bl1_5)">
<rect x="-10" y="-10" width="70" height="70" fill="#471668"/>
<polygon points="2.46686,13.7512 9.56746,9.01746 19.0349,6.05888 26.1355,6.05888 29.0941,10.2009 29.6858,19.6683 27.3189,26.7689 21.4018,29.1358 14.3012,29.7275 7.20059,28.5441 2.46686,26.7689 1.28343,19.6683" fill="#21918c"/>
<ellipse cx="37.9698" cy="35.053" rx="12.426" ry="10.0592" fill="#21918c" transform="rotate(-20 37.9698 35.053)"/>
<ellipse cx="34.4195" cy="19.6683" rx="4.73373" ry="4.73373" fill="#472a79"/>
</g>
<g filter="url(#bl2_8)">
<ellipse cx="17.8515" cy="23.2186" rx="7.10059" ry="3.5503" fill="#33b67a" transform="rotate(-15 17.8515 23.2186)"/>
</g>
</g></g>
<g transform="translate(607.15,211.45)">
<g clip-path="url(#ic)">
<rect x="0" y="0" width="51" height="51" fill="#460c5e"/>
<g filter="url(#bl1_4)">
<rect x="-10" y="-10" width="70" height="70" fill="#460c5e"/>
<ellipse cx="38.9033" cy="12.5678" rx="13.0178" ry="16.568" fill="#20a386" transform="rotate(30 38.9033 12.5678)"/>
<ellipse cx="12.8678" cy="24.9938" rx="13.0178" ry="10.0592" fill="#2c738e"/>
<ellipse cx="38.9033" cy="37.4198" rx="13.0178" ry="13.0178" fill="#238c8d"/>
</g>
<g filter="url(#bl2_4)">
<ellipse cx="18.7849" cy="24.9938" rx="7.10059" ry="7.10059" fill="#26828e"/>
<ellipse cx="36.5364" cy="23.2186" rx="7.10059" ry="2.13018" fill="#bddf26" transform="rotate(-25 36.5364 23.2186)"/>
</g>
</g></g>
<g transform="translate(264.9,272.45)">
<g clip-path="url(#ic)">
<rect x="0" y="0" width="51" height="51" fill="#440154"/>
<g filter="url(#bl0_5)">
<rect x="-10" y="-10" width="70" height="70" fill="#440154"/>
<polygon points="14.0645,-1.63343 52.171,-1.63343 52.171,-0.45 48.6207,-0.45 51.1059,1.91686 51.1059,33.8695 47.4373,35.053 42.7036,38.6033 35.603,38.6033 23.7686,35.053 17.8515,35.053 13.1178,29.1358 10.1592,14.9346 9.80414,12.5678 10.5142,8.42574 11.9343,3.69201" fill="#2f6c8e"/>
<polygon points="-1.08343,21.4435 4.83373,17.3015 10.1592,14.9346 11.3426,23.2186 14.3012,31.5027 19.0349,35.053 15.4846,38.6033 10.7509,40.3784 4.83373,41.2068 -1.08343,41.6802" fill="#3d4c89"/>
<polygon points="19.0349,35.6447 21.9935,33.8695 28.5024,35.053 39.1533,35.053 46.8456,33.8695 48.029,35.053 45.6621,40.3784 39.745,44.7571 32.0527,47.124 23.7686,47.3607 19.6266,45.7038 18.7982,39.7867" fill="#33648d"/>
<polygon points="9.56746,16.118 16.668,14.3429 29.6858,14.3429 35.603,19.0766 37.9698,23.2186 28.5024,28.5441 23.7686,31.266 19.0349,32.9228 15.4846,30.9109 11.9343,25.5855 10.1592,19.6683" fill="#2cb27e"/>
<polygon points="22.5852,32.9228 27.3189,27.9524 35.603,23.8104 45.0704,22.982 49.2124,24.6388 49.5675,30.5559 45.0704,34.1062 36.7864,36.4731 28.5024,36.4731 23.7686,35.2896" fill="#59c765"/>
</g>
<g filter="url(#bl2_0)">
<ellipse cx="14.3012" cy="19.6683" rx="3.5503" ry="4.73373" fill="#1e9c89"/>
<ellipse cx="21.4018" cy="22.6269" rx="2.60355" ry="7.10059" fill="#6fce58"/>
<ellipse cx="27.9107" cy="29.1358" rx="4.14201" ry="2.95858" fill="#64cb5f"/>
<ellipse cx="34.4195" cy="28.8991" rx="4.97041" ry="4.02367" fill="#e5e41b" transform="rotate(-30 34.4195 28.8991)"/>
</g>
</g></g>
<g transform="translate(329.2,272.45)">
<g clip-path="url(#ic)">
<rect x="0" y="0" width="51" height="51" fill="#440154"/>
<g filter="url(#bl0_5)">
<rect x="-10" y="-10" width="70" height="70" fill="#440154"/>
<polygon points="6.90059,-1.63343 38.8533,-1.63343 38.8533,0.141716 44.7704,4.28373 49.5041,9.01746 51.871,11.3843 51.871,32.6861 47.1373,36.2364 42.4036,39.7867 35.303,42.7453 28.2024,44.1654 23.4686,42.3902 19.9183,38.6033 11.6343,38.6033 0.983432,35.053 0.983432,11.3843 6.90059,10.2009" fill="#2e6e8e"/>
<polygon points="6.90059,-1.63343 17.5515,-1.63343 16.368,6.65059 14.0012,10.2009 9.26746,9.60917 8.08402,6.65059 6.90059,3.1003" fill="#3d4c89"/>
<polygon points="-1.38343,11.3843 6.90059,10.2009 11.6343,10.2009 12.8178,14.9346 12.226,23.2186 14.0012,30.3192 18.7349,37.6565 17.5515,38.8399 9.26746,38.8399 4.53373,36.4731 1.57515,34.1062 -1.38343,33.8695" fill="#3f4a89"/>
<polygon points="16.368,6.65059 19.9183,3.1003 27.0189,1.68018 32.3444,2.86361 31.9893,9.01746 28.4391,13.1595 23.4686,15.5263 19.3266,16.7098 15.7763,13.7512 14.9479,10.2009" fill="#20958b"/>
<polygon points="11.6343,16.118 17.5515,15.8814 22.8769,17.3015 24.6521,22.0352 24.0604,24.9938 20.5101,27.9524 19.3266,35.2896 16.368,32.9228 13.4095,27.9524 11.6343,22.0352" fill="#22a884"/>
<polygon points="29.9775,17.3015 35.303,15.2896 42.4036,16.4731 48.3207,20.6151 49.7408,26.7689 45.0071,29.3725 40.0367,29.3725 35.303,26.2956 31.1609,23.2186" fill="#3cbb75"/>
<polygon points="20.5101,26.7689 24.6521,23.8104 30.5692,23.2186 35.303,26.7689 40.6284,29.7275 42.0485,33.8695 40.2734,40.0234 35.303,42.3902 28.2024,42.982 22.2852,40.0234 19.9183,36.2364" fill="#4ec36a"/>
</g>
<g filter="url(#bl2_0)">
<ellipse cx="20.8651" cy="30.0825" rx="1.89349" ry="5.32544" fill="#94d740" transform="rotate(20 20.8651 30.0825)"/>
<ellipse cx="35.5396" cy="25.8222" rx="3.78698" ry="1.6568" fill="#d1e11e" transform="rotate(40 35.5396 25.8222)"/>
<ellipse cx="16.9598" cy="14.3429" rx="1.77515" ry="1.42012" fill="#44bf70" transform="rotate(35 16.9598 14.3429)"/>
</g>
</g></g>
<g transform="translate(393.6,272.45)">
<g clip-path="url(#ic)">
<rect x="0" y="0" width="51" height="51" fill="#440154"/>
<g filter="url(#bl0_5)">
<rect x="-10" y="-10" width="70" height="70" fill="#440154"/>
<polygon points="1.17515,6.65059 4.72544,2.50858 11.2343,-1.63343 39.6367,-1.63343 38.4533,5.46716 46.7373,6.65059 49.3408,11.3843 49.3408,20.8518 45.7905,26.7689 38.4533,29.1358 34.903,31.5027 30.1692,37.4198 23.0686,42.3902 17.1515,44.7571 10.0509,44.1654 5.31716,41.2068 1.76686,37.6565 0.583432,29.1358 0.583432,13.7512" fill="#30698e"/>
<polygon points="14.1929,-1.63343 27.8024,-1.63343 30.1692,4.28373 33.7195,9.01746 31.3527,12.5678 27.8024,13.7512 23.0686,11.3843 18.3349,7.83402 14.7846,3.69201" fill="#20958b"/>
<polygon points="26.6189,-1.63343 43.4237,-1.63343 46.3822,4.28373 38.4533,6.05888 34.903,8.42574 31.3527,6.65059 28.9858,2.50858" fill="#3b528b"/>
<polygon points="34.903,6.65059 42.0036,5.82219 46.974,6.65059 48.1574,10.2009 44.6071,14.9346 38.4533,16.9464 34.903,16.118 33.7195,11.3843" fill="#20958b"/>
<polygon points="28.3941,16.7098 38.6899,16.7098 38.6899,25.5855 36.6781,28.1891 32.5361,28.7808 28.9858,25.8222" fill="#3cbb75"/>
<polygon points="33.1278,9.37249 34.903,10.5559 37.5065,13.7512 38.0982,16.9464 28.7491,16.9464 29.3408,13.7512 31.3527,10.7926" fill="#87d449"/>
<polygon points="8.86746,27.9524 13.6012,24.1654 20.7018,22.982 27.8024,23.5737 33.7195,26.5322 36.3231,30.3192 35.1396,35.053 30.4059,40.6151 23.0686,44.1654 15.968,44.7571 11.2343,43.5737 8.27574,40.0234 7.09231,33.8695" fill="#44bf70"/>
</g>
<g filter="url(#bl2_0)">
<ellipse cx="31.5893" cy="29.1358" rx="2.13018" ry="3.5503" fill="#6fce58"/>
</g>
</g></g>
<g transform="translate(478.5,272.45)">
<g clip-path="url(#ic)">
<rect x="0" y="0" width="51" height="51" fill="#440154"/>
<g filter="url(#bl0_5)">
<rect x="-10" y="-10" width="70" height="70" fill="#440154"/>
<ellipse cx="23.1686" cy="10.7926" rx="16.568" ry="15.9763" fill="#2a788e"/>
<polygon points="19.6183,51.621 20.2101,39.7867 23.1686,33.8695 27.9024,29.7275 33.8195,26.1772 39.7367,24.6388 48.0207,24.6388 51.571,26.7689 51.571,51.621" fill="#228e8c"/>
<ellipse cx="15.4763" cy="32.0944" rx="11.2426" ry="8.87574" fill="#20a187"/>
</g>
<g filter="url(#bl0_9)">
<polygon points="12.5178,23.8104 18.4349,23.5737 23.1686,26.1772 26.1272,29.7275 24.3521,30.5559 20.8018,27.9524 16.068,25.8222" fill="#bddf26"/>
<polygon points="24.9438,29.7275 30.2692,27.3607 34.4112,25.5855 33.8195,27.0056 26.7189,30.9109" fill="#4ec36a"/>
<polygon points="23.7604,30.9109 25.7722,30.3192 24.5888,35.053 21.6302,40.3784 19.855,39.7867 21.9852,35.053" fill="#d1e11e"/>
</g>
</g></g>
<g transform="translate(542.9,272.45)">
<g clip-path="url(#ic)">
<rect x="0" y="0" width="51" height="51" fill="#45085b"/>
<g filter="url(#bl0_5)">
<rect x="-10" y="-10" width="70" height="70" fill="#45085b"/>
<polygon points="6.60888,22.0352 8.38402,14.9346 13.1178,9.60917 19.0349,5.46716 24.9521,5.23047 28.2657,9.01746 28.7391,16.118 27.3189,20.8518 23.7686,25.5855 17.8515,29.1358 13.1178,29.1358 8.38402,26.7689" fill="#1e9c89"/>
<polygon points="17.8515,29.7275 23.7686,25.5855 28.5024,20.8518 32.0527,20.2601 35.603,24.4021 34.4195,29.1358 29.6858,31.5027 22.5852,31.5027" fill="#2c738e"/>
<ellipse cx="37.9698" cy="34.4612" rx="13.0178" ry="10.6509" fill="#23898d" transform="rotate(-15 37.9698 34.4612)"/>
</g>
<g filter="url(#bl0_9)">
<polygon points="11.9343,24.9938 14.3012,20.8518 19.0349,18.4849 24.9521,17.3015 28.5024,18.4849 27.9107,21.4435 23.7686,24.9938 17.8515,28.5441 13.1178,28.5441" fill="#7ad151"/>
<polygon points="28.5024,29.7275 31.4609,27.3607 34.6562,26.1772 34.4195,27.9524 31.1059,30.0825" fill="#5ec962"/>
</g>
</g></g>
<g transform="translate(607.15,272.45)">
<g clip-path="url(#ic)">
<rect x="0" y="0" width="51" height="51" fill="#440154"/>
<g filter="url(#bl0_5)">
<rect x="-10" y="-10" width="70" height="70" fill="#440154"/>
<ellipse cx="38.9033" cy="9.01746" rx="14.7929" ry="16.8047" fill="#20a187" transform="rotate(20 38.9033 9.01746)"/>
<ellipse cx="11.6843" cy="24.9938" rx="15.9763" ry="10.6509" fill="#2a788e"/>
<ellipse cx="37.7198" cy="35.053" rx="12.426" ry="13.6095" fill="#23898d"/>
</g>
<g filter="url(#bl0_7)">
<ellipse cx="26.8322" cy="20.6151" rx="3.5503" ry="1.06509" fill="#7ad151" transform="rotate(55 26.8322 20.6151)"/>
<ellipse cx="38.3115" cy="22.3902" rx="8.28402" ry="1.53846" fill="#d8e21b" transform="rotate(-22 38.3115 22.3902)"/>
</g>
</g></g>
<g transform="translate(264.9,333.45)">
<g clip-path="url(#ic)">
<rect x="0" y="0" width="51" height="51" fill="#440154"/>
<g filter="url(#bl0_5)">
<rect x="-10" y="-10" width="70" height="70" fill="#440154"/>
<polygon points="14.0645,-1.63343 52.171,-1.63343 52.171,-0.45 48.6207,-0.45 51.1059,1.91686 51.1059,33.8695 47.4373,35.053 42.7036,38.6033 35.603,38.6033 23.7686,35.053 17.8515,35.053 13.1178,29.1358 10.1592,14.9346 9.80414,12.5678 10.5142,8.42574 11.9343,3.69201" fill="#2f6c8e"/>
<polygon points="-1.08343,21.4435 4.83373,17.3015 10.1592,14.9346 11.3426,23.2186 14.3012,31.5027 19.0349,35.053 15.4846,38.6033 10.7509,40.3784 4.83373,41.2068 -1.08343,41.6802" fill="#3d4c89"/>
<polygon points="19.0349,35.6447 21.9935,33.8695 28.5024,35.053 39.1533,35.053 46.8456,33.8695 48.029,35.053 45.6621,40.3784 39.745,44.7571 32.0527,47.124 23.7686,47.3607 19.6266,45.7038 18.7982,39.7867" fill="#33648d"/>
<polygon points="9.56746,16.118 16.668,14.3429 29.6858,14.3429 35.603,19.0766 37.9698,23.2186 28.5024,28.5441 23.7686,31.266 19.0349,32.9228 15.4846,30.9109 11.9343,25.5855 10.1592,19.6683" fill="#2cb27e"/>
<polygon points="22.5852,32.9228 27.3189,27.9524 35.603,23.8104 45.0704,22.982 49.2124,24.6388 49.5675,30.5559 45.0704,34.1062 36.7864,36.4731 28.5024,36.4731 23.7686,35.2896" fill="#59c765"/>
</g>
<g filter="url(#bl2_0)">
<ellipse cx="14.3012" cy="19.6683" rx="3.5503" ry="4.73373" fill="#1e9c89"/>
<ellipse cx="21.4018" cy="22.6269" rx="2.60355" ry="7.10059" fill="#7ad151"/>
<ellipse cx="27.9107" cy="29.1358" rx="4.14201" ry="2.95858" fill="#64cb5f"/>
<ellipse cx="34.4195" cy="28.8991" rx="4.97041" ry="4.02367" fill="#ebe51d" transform="rotate(-30 34.4195 28.8991)"/>
</g>
</g></g>
<g transform="translate(329.2,333.45)">
<g clip-path="url(#ic)">
<rect x="0" y="0" width="51" height="51" fill="#440154"/>
<g filter="url(#bl0_5)">
<rect x="-10" y="-10" width="70" height="70" fill="#440154"/>
<polygon points="6.90059,-1.63343 38.8533,-1.63343 38.8533,0.141716 44.7704,4.28373 49.5041,9.01746 51.871,11.3843 51.871,32.6861 47.1373,36.2364 42.4036,39.7867 35.303,42.7453 28.2024,44.1654 23.4686,42.3902 19.9183,38.6033 11.6343,38.6033 0.983432,35.053 0.983432,11.3843 6.90059,10.2009" fill="#2e6e8e"/>
<polygon points="6.90059,-1.63343 17.5515,-1.63343 16.368,6.65059 14.0012,10.2009 9.26746,9.60917 8.08402,6.65059 6.90059,3.1003" fill="#3d4c89"/>
<polygon points="-1.38343,11.3843 6.90059,10.2009 11.6343,10.2009 12.8178,14.9346 12.226,23.2186 14.0012,30.3192 18.7349,37.6565 17.5515,38.8399 9.26746,38.8399 4.53373,36.4731 1.57515,34.1062 -1.38343,33.8695" fill="#3f4a89"/>
<polygon points="16.368,6.65059 19.9183,3.1003 27.0189,1.68018 32.3444,2.86361 31.9893,9.01746 28.4391,13.1595 23.4686,15.5263 19.3266,16.7098 15.7763,13.7512 14.9479,10.2009" fill="#20958b"/>
<polygon points="11.6343,16.118 17.5515,15.8814 22.8769,17.3015 24.6521,22.0352 24.0604,24.9938 20.5101,27.9524 19.3266,35.2896 16.368,32.9228 13.4095,27.9524 11.6343,22.0352" fill="#22a884"/>
<polygon points="29.9775,17.3015 35.303,15.2896 42.4036,16.4731 48.3207,20.6151 49.7408,26.7689 45.0071,29.3725 40.0367,29.3725 35.303,26.2956 31.1609,23.2186" fill="#3cbb75"/>
<polygon points="20.5101,26.7689 24.6521,23.8104 30.5692,23.2186 35.303,26.7689 40.6284,29.7275 42.0485,33.8695 40.2734,40.0234 35.303,42.3902 28.2024,42.982 22.2852,40.0234 19.9183,36.2364" fill="#4ec36a"/>
</g>
<g filter="url(#bl2_0)">
<ellipse cx="20.8651" cy="30.0825" rx="1.89349" ry="5.32544" fill="#a2da38" transform="rotate(20 20.8651 30.0825)"/>
<ellipse cx="35.5396" cy="25.8222" rx="3.78698" ry="1.6568" fill="#dfe318" transform="rotate(40 35.5396 25.8222)"/>
<ellipse cx="16.9598" cy="14.3429" rx="1.77515" ry="1.42012" fill="#4ec36a" transform="rotate(35 16.9598 14.3429)"/>
</g>
</g></g>
<g transform="translate(393.6,333.45)">
<g clip-path="url(#ic)">
<rect x="0" y="0" width="51" height="51" fill="#440154"/>
<g filter="url(#bl0_5)">
<rect x="-10" y="-10" width="70" height="70" fill="#440154"/>
<polygon points="1.17515,6.65059 4.72544,2.50858 11.2343,-1.63343 39.6367,-1.63343 38.4533,5.46716 46.7373,6.65059 49.3408,11.3843 49.3408,20.8518 45.7905,26.7689 38.4533,29.1358 34.903,31.5027 30.1692,37.4198 23.0686,42.3902 17.1515,44.7571 10.0509,44.1654 5.31716,41.2068 1.76686,37.6565 0.583432,29.1358 0.583432,13.7512" fill="#30698e"/>
<polygon points="14.1929,-1.63343 27.8024,-1.63343 30.1692,4.28373 33.7195,9.01746 31.3527,12.5678 27.8024,13.7512 23.0686,11.3843 18.3349,7.83402 14.7846,3.69201" fill="#20958b"/>
<polygon points="26.6189,-1.63343 43.4237,-1.63343 46.3822,4.28373 38.4533,6.05888 34.903,8.42574 31.3527,6.65059 28.9858,2.50858" fill="#3b528b"/>
<polygon points="34.903,6.65059 42.0036,5.82219 46.974,6.65059 48.1574,10.2009 44.6071,14.9346 38.4533,16.9464 34.903,16.118 33.7195,11.3843" fill="#20958b"/>
<polygon points="28.3941,16.7098 38.6899,16.7098 38.6899,25.5855 36.6781,28.1891 32.5361,28.7808 28.9858,25.8222" fill="#3cbb75"/>
<polygon points="33.1278,9.37249 34.903,10.5559 37.5065,13.7512 38.0982,16.9464 28.7491,16.9464 29.3408,13.7512 31.3527,10.7926" fill="#7ad151"/>
<polygon points="8.86746,27.9524 13.6012,24.1654 20.7018,22.982 27.8024,23.5737 33.7195,26.5322 36.3231,30.3192 35.1396,35.053 30.4059,40.6151 23.0686,44.1654 15.968,44.7571 11.2343,43.5737 8.27574,40.0234 7.09231,33.8695" fill="#44bf70"/>
</g>
<g filter="url(#bl2_0)">
<ellipse cx="31.5893" cy="29.1358" rx="2.13018" ry="3.5503" fill="#6fce58"/>
</g>
</g></g>
<g transform="translate(478.5,333.45)">
<g clip-path="url(#ic)">
<rect x="0" y="0" width="51" height="51" fill="#440154"/>
<g filter="url(#bl0_5)">
<rect x="-10" y="-10" width="70" height="70" fill="#440154"/>
<ellipse cx="23.1686" cy="10.7926" rx="16.568" ry="15.9763" fill="#2a788e"/>
<polygon points="19.6183,51.621 20.2101,39.7867 23.1686,33.8695 27.9024,29.7275 33.8195,26.1772 39.7367,24.6388 48.0207,24.6388 51.571,26.7689 51.571,51.621" fill="#228e8c"/>
<ellipse cx="15.4763" cy="32.0944" rx="11.2426" ry="8.87574" fill="#20a187"/>
</g>
<g filter="url(#bl0_9)">
<polygon points="12.5178,23.8104 18.4349,23.5737 23.1686,26.1772 26.1272,29.7275 24.3521,30.5559 20.8018,27.9524 16.068,25.8222" fill="#bddf26"/>
<polygon points="24.9438,29.7275 30.2692,27.3607 34.4112,25.5855 33.8195,27.0056 26.7189,30.9109" fill="#4ec36a"/>
<polygon points="23.7604,30.9109 25.7722,30.3192 24.5888,35.053 21.6302,40.3784 19.855,39.7867 21.9852,35.053" fill="#d1e11e"/>
</g>
</g></g>
<g transform="translate(542.9,333.45)">
<g clip-path="url(#ic)">
<rect x="0" y="0" width="51" height="51" fill="#45085b"/>
<g filter="url(#bl0_5)">
<rect x="-10" y="-10" width="70" height="70" fill="#45085b"/>
<polygon points="6.60888,22.0352 8.38402,14.9346 13.1178,9.60917 19.0349,5.46716 24.9521,5.23047 28.2657,9.01746 28.7391,16.118 27.3189,20.8518 23.7686,25.5855 17.8515,29.1358 13.1178,29.1358 8.38402,26.7689" fill="#1e9c89"/>
<polygon points="17.8515,29.7275 23.7686,25.5855 28.5024,20.8518 32.0527,20.2601 35.603,24.4021 34.4195,29.1358 29.6858,31.5027 22.5852,31.5027" fill="#2c738e"/>
<ellipse cx="37.9698" cy="34.4612" rx="13.0178" ry="10.6509" fill="#23898d" transform="rotate(-15 37.9698 34.4612)"/>
</g>
<g filter="url(#bl0_9)">
<polygon points="11.9343,24.9938 14.3012,20.8518 19.0349,18.4849 24.9521,17.3015 28.5024,18.4849 27.9107,21.4435 23.7686,24.9938 17.8515,28.5441 13.1178,28.5441" fill="#7ad151"/>
<polygon points="28.5024,29.7275 31.4609,27.3607 34.6562,26.1772 34.4195,27.9524 31.1059,30.0825" fill="#5ec962"/>
</g>
</g></g>
<g transform="translate(607.15,333.45)">
<g clip-path="url(#ic)">
<rect x="0" y="0" width="51" height="51" fill="#440154"/>
<g filter="url(#bl0_5)">
<rect x="-10" y="-10" width="70" height="70" fill="#440154"/>
<ellipse cx="38.9033" cy="9.01746" rx="14.7929" ry="16.8047" fill="#20a187" transform="rotate(20 38.9033 9.01746)"/>
<ellipse cx="11.6843" cy="24.9938" rx="15.9763" ry="10.6509" fill="#2a788e"/>
<ellipse cx="37.7198" cy="35.053" rx="12.426" ry="13.6095" fill="#23898d"/>
</g>
<g filter="url(#bl0_7)">
<ellipse cx="26.8322" cy="20.6151" rx="3.5503" ry="1.06509" fill="#7ad151" transform="rotate(55 26.8322 20.6151)"/>
<ellipse cx="38.3115" cy="22.3902" rx="8.28402" ry="1.53846" fill="#d8e21b" transform="rotate(-22 38.3115 22.3902)"/>
</g>
</g></g>
<rect x="451.00" y="29.90" width="5.20" height="45.70" fill="url(#vgrad)"/><text x="459.40" y="31.50" font-size="3.6" font-family="Liberation Sans, sans-serif" fill="#333">2.72</text><text x="459.40" y="76.90" font-size="3.6" font-family="Liberation Sans, sans-serif" fill="#333">0</text><text transform="translate(467.00,52.75) rotate(90)" font-size="3.6" text-anchor="middle" font-family="Liberation Sans, sans-serif" fill="#333">Amplitude</text><line x1="456.20" y1="67.98" x2="457.20" y2="67.98" stroke="#666" stroke-width="0.3"/><line x1="456.20" y1="60.37" x2="457.20" y2="60.37" stroke="#666" stroke-width="0.3"/><line x1="456.20" y1="52.75" x2="457.20" y2="52.75" stroke="#666" stroke-width="0.3"/><line x1="456.20" y1="45.13" x2="457.20" y2="45.13" stroke="#666" stroke-width="0.3"/><line x1="456.20" y1="37.52" x2="457.20" y2="37.52" stroke="#666" stroke-width="0.3"/>
<rect x="663.40" y="29.90" width="5.20" height="45.70" fill="url(#vgrad)"/><text x="671.80" y="31.50" font-size="3.6" font-family="Liberation Sans, sans-serif" fill="#333">1.62</text><text x="671.80" y="76.90" font-size="3.6" font-family="Liberation Sans, sans-serif" fill="#333">0</text><text transform="translate(679.40,52.75) rotate(90)" font-size="3.6" text-anchor="middle" font-family="Liberation Sans, sans-serif" fill="#333">Amplitude</text><line x1="668.60" y1="67.98" x2="669.60" y2="67.98" stroke="#666" stroke-width="0.3"/><line x1="668.60" y1="60.37" x2="669.60" y2="60.37" stroke="#666" stroke-width="0.3"/><line x1="668.60" y1="52.75" x2="669.60" y2="52.75" stroke="#666" stroke-width="0.3"/><line x1="668.60" y1="45.13" x2="669.60" y2="45.13" stroke="#666" stroke-width="0.3"/><line x1="668.60" y1="37.52" x2="669.60" y2="37.52" stroke="#666" stroke-width="0.3"/>
<rect x="451.80" y="213.10" width="5.20" height="45.60" fill="url(#vgrad)"/><text x="460.20" y="214.70" font-size="3.6" font-family="Liberation Sans, sans-serif" fill="#333">2.34</text><text x="460.20" y="260.00" font-size="3.6" font-family="Liberation Sans, sans-serif" fill="#333">−0.007</text><text transform="translate(467.80,235.90) rotate(90)" font-size="3.6" text-anchor="middle" font-family="Liberation Sans, sans-serif" fill="#333">Amplitude</text><line x1="457.00" y1="251.10" x2="458.00" y2="251.10" stroke="#666" stroke-width="0.3"/><line x1="457.00" y1="243.50" x2="458.00" y2="243.50" stroke="#666" stroke-width="0.3"/><line x1="457.00" y1="235.90" x2="458.00" y2="235.90" stroke="#666" stroke-width="0.3"/><line x1="457.00" y1="228.30" x2="458.00" y2="228.30" stroke="#666" stroke-width="0.3"/><line x1="457.00" y1="220.70" x2="458.00" y2="220.70" stroke="#666" stroke-width="0.3"/>
<rect x="664.60" y="213.10" width="5.20" height="45.60" fill="url(#vgrad)"/><text x="673.00" y="214.70" font-size="3.6" font-family="Liberation Sans, sans-serif" fill="#333">1.65</text><text x="673.00" y="260.00" font-size="3.6" font-family="Liberation Sans, sans-serif" fill="#333">−0.003</text><text transform="translate(680.60,235.90) rotate(90)" font-size="3.6" text-anchor="middle" font-family="Liberation Sans, sans-serif" fill="#333">Amplitude</text><line x1="669.80" y1="251.10" x2="670.80" y2="251.10" stroke="#666" stroke-width="0.3"/><line x1="669.80" y1="243.50" x2="670.80" y2="243.50" stroke="#666" stroke-width="0.3"/><line x1="669.80" y1="235.90" x2="670.80" y2="235.90" stroke="#666" stroke-width="0.3"/><line x1="669.80" y1="228.30" x2="670.80" y2="228.30" stroke="#666" stroke-width="0.3"/><line x1="669.80" y1="220.70" x2="670.80" y2="220.70" stroke="#666" stroke-width="0.3"/>
<rect x="265.3" y="393.3" width="50.6" height="30" fill="#fff" stroke="#bdbdbd" stroke-width="0.8"/>
<polyline points="267.20,419.30 279.50,419.30 291.70,415.80 302.20,419.70 311.00,420.60" fill="none" stroke="#dedede" stroke-width="0.55" stroke-linejoin="round"/>
<polyline points="279.50,405.70 290.90,400.00 294.40,400.50 296.10,404.90 301.30,413.30 305.30,419.30 311.30,421.30" fill="none" stroke="#bababa" stroke-width="0.55" stroke-linejoin="round"/>
<polyline points="267.20,418.00 274.30,418.00 279.50,409.70 290.90,404.90 295.30,406.60 301.40,416.30 304.00,420.60 311.00,421.00" fill="none" stroke="#a0a0a0" stroke-width="0.65" stroke-linejoin="round"/>
<polyline points="267.20,414.30 277.70,414.30 280.80,405.60 293.50,404.30 295.30,402.30 300.50,409.30 303.10,415.60 309.70,415.60 312.80,422.30" fill="none" stroke="#707070" stroke-width="0.75" stroke-linejoin="round"/>
<polyline points="267.20,414.50 277.70,414.50 280.80,405.30 293.50,404.00 295.30,401.80 300.50,408.80 303.10,415.30 309.70,415.30 312.80,422.30" fill="none" stroke="#1a1a1a" stroke-width="0.9" stroke-linejoin="round"/>
<polyline points="267.20,412.30 278.20,412.30 280.30,404.40 294.40,403.50 295.30,395.20 296.10,403.10 301.80,403.10 303.10,412.70 310.10,413.20 312.30,422.30" fill="none" stroke="#ff3030" stroke-width="0.75" stroke-dasharray="1.1,0.55"/>
<rect x="329.6" y="393.3" width="50.6" height="30" fill="#fff" stroke="#bdbdbd" stroke-width="0.8"/>
<polyline points="332.60,420.30 335.30,419.50 348.90,419.00 353.30,414.60 359.40,413.80 369.90,415.90 372.60,420.30" fill="none" stroke="#dedede" stroke-width="0.55" stroke-linejoin="round"/>
<polyline points="334.80,418.90 335.70,410.50 343.60,408.80 345.40,407.60 349.70,402.30 354.10,395.20 360.20,395.20 364.60,398.60 369.00,411.00 373.60,418.30" fill="none" stroke="#bababa" stroke-width="0.55" stroke-linejoin="round"/>
<polyline points="332.60,416.30 336.10,406.30 345.40,405.80 348.60,410.30 352.60,408.80 355.10,400.80 363.60,400.80 367.60,405.30 370.60,411.30 373.80,420.30" fill="none" stroke="#a0a0a0" stroke-width="0.65" stroke-linejoin="round"/>
<polyline points="332.20,414.30 334.40,404.80 345.40,404.10 347.10,407.80 349.70,410.10 351.60,408.70 354.10,400.50 366.40,401.30 369.50,404.10 372.10,413.10 373.80,421.10" fill="none" stroke="#707070" stroke-width="0.75" stroke-linejoin="round"/>
<polyline points="332.20,415.30 334.40,404.30 345.40,403.50 347.10,407.30 349.70,409.70 351.60,408.30 354.10,400.00 366.40,400.90 369.50,403.50 372.10,412.70 373.80,421.10 377.60,421.30" fill="none" stroke="#1a1a1a" stroke-width="0.9" stroke-linejoin="round"/>
<polyline points="332.20,413.60 333.10,401.30 345.40,401.30 346.20,409.30 352.80,409.30 354.10,399.20 369.90,399.20 370.80,411.00 373.40,421.10 377.80,421.90" fill="none" stroke="#ff3030" stroke-width="0.75" stroke-dasharray="1.1,0.55"/>
<rect x="394" y="393.3" width="50.6" height="30" fill="#fff" stroke="#bdbdbd" stroke-width="0.8"/>
<polyline points="410.60,412.80 415.90,421.50 425.50,419.80 432.50,416.10 439.50,415.30" fill="none" stroke="#dedede" stroke-width="0.55" stroke-linejoin="round"/>
<polyline points="396.60,417.10 402.80,412.30 406.30,412.30 410.60,408.80 421.20,401.40 427.30,401.40 431.60,405.70 437.80,409.70 442.00,412.30" fill="none" stroke="#bababa" stroke-width="0.55" stroke-linejoin="round"/>
<polyline points="396.60,418.90 406.30,416.30 410.60,409.30 415.00,410.10 419.40,406.60 423.80,406.60 427.30,401.40 432.50,406.10 438.00,408.30 442.00,413.30" fill="none" stroke="#a0a0a0" stroke-width="0.65" stroke-linejoin="round"/>
<polyline points="396.60,419.80 406.70,418.90 408.90,410.30 412.40,408.80 415.50,403.60 416.80,403.90 419.40,406.30 422.90,406.30 425.50,405.10 428.60,399.30 430.80,402.30 432.50,406.30 437.80,409.10 439.50,411.30 442.60,417.60" fill="none" stroke="#707070" stroke-width="0.75" stroke-linejoin="round"/>
<polyline points="396.60,420.20 406.70,419.30 408.90,410.10 412.40,408.40 415.50,403.10 416.80,403.50 419.40,406.10 422.90,406.10 425.50,404.70 428.60,398.70 430.80,401.80 432.50,406.10 437.80,408.80 439.50,411.00 442.60,417.60" fill="none" stroke="#1a1a1a" stroke-width="0.9" stroke-linejoin="round"/>
<polyline points="396.60,420.20 406.70,419.80 408.00,408.40 411.50,407.90 414.10,408.40 415.90,407.50 416.80,398.30 419.00,398.30 419.80,405.70 425.50,405.70 427.30,395.20 430.80,395.20 432.10,404.90 440.90,404.90 443.00,417.10" fill="none" stroke="#ff3030" stroke-width="0.75" stroke-dasharray="1.1,0.55"/>
<rect x="478.9" y="393.3" width="50.6" height="30" fill="#fff" stroke="#bdbdbd" stroke-width="0.8"/>
<polyline points="481.50,421.30 502.90,420.80 505.90,419.30 507.70,408.80 508.90,420.30 527.90,419.30" fill="none" stroke="#dedede" stroke-width="0.55" stroke-linejoin="round"/>
<polyline points="481.50,421.50 487.70,420.20 493.80,414.00 499.90,418.40 503.40,416.30 506.10,418.00 509.50,401.40 513.90,404.00 520.10,418.40 527.10,412.30" fill="none" stroke="#bababa" stroke-width="0.55" stroke-linejoin="round"/>
<polyline points="481.50,410.30 492.90,410.80 504.30,409.50 506.90,400.30 508.90,406.80 513.90,406.30 518.90,407.30 527.90,407.90" fill="none" stroke="#a0a0a0" stroke-width="0.65" stroke-linejoin="round"/>
<polyline points="481.50,409.90 492.90,410.80 504.30,409.30 506.80,398.80 508.20,406.50 513.10,405.80 517.40,406.80 527.90,407.70" fill="none" stroke="#707070" stroke-width="0.75" stroke-linejoin="round"/>
<polyline points="481.50,409.70 492.90,411.00 504.30,409.20 506.80,397.90 508.20,406.20 513.10,405.30 517.40,406.60 527.90,407.50" fill="none" stroke="#1a1a1a" stroke-width="0.9" stroke-linejoin="round"/>
<polyline points="481.50,410.60 505.20,410.60 506.80,395.20 507.80,408.40 527.90,408.40" fill="none" stroke="#ff3030" stroke-width="0.75" stroke-dasharray="1.1,0.55"/>
<rect x="543.3" y="393.3" width="50.6" height="30" fill="#fff" stroke="#bdbdbd" stroke-width="0.8"/>
<polyline points="545.30,417.10 561.10,416.10 569.00,418.70 578.70,410.60 583.10,413.20 586.50,419.80" fill="none" stroke="#dedede" stroke-width="0.55" stroke-linejoin="round"/>
<polyline points="545.30,420.60 557.60,418.90 562.10,416.30 564.70,416.70 568.20,415.80 569.90,411.80 571.70,405.30 576.30,406.80 583.30,408.30 587.30,417.30" fill="none" stroke="#bababa" stroke-width="0.55" stroke-linejoin="round"/>
<polyline points="545.30,420.70 561.30,420.30 567.30,411.30 570.50,401.30 573.30,403.80 579.30,403.80 587.40,407.30 588.70,420.50" fill="none" stroke="#a0a0a0" stroke-width="0.65" stroke-linejoin="round"/>
<polyline points="545.30,420.90 564.10,420.90 569.00,407.90 570.50,399.30 572.90,404.80 576.80,405.50 587.40,406.90 588.70,420.90 591.70,420.90" fill="none" stroke="#707070" stroke-width="0.75" stroke-linejoin="round"/>
<polyline points="545.30,421.10 564.10,421.10 569.00,407.50 570.50,398.30 572.90,404.40 576.80,405.70 587.40,407.10 588.70,421.10 591.70,421.10" fill="none" stroke="#1a1a1a" stroke-width="0.9" stroke-linejoin="round"/>
<polyline points="545.30,421.10 564.10,421.10 566.30,408.80 568.50,408.40 570.50,394.80 572.50,407.10 587.40,407.10 588.70,421.10 591.70,421.10" fill="none" stroke="#ff3030" stroke-width="0.75" stroke-dasharray="1.1,0.55"/>
<rect x="607.55" y="393.3" width="50.6" height="30" fill="#fff" stroke="#bdbdbd" stroke-width="0.8"/>
<polyline points="610.35,418.00 656.05,418.00" fill="none" stroke="#dedede" stroke-width="0.55" stroke-linejoin="round"/>
<polyline points="610.35,408.30 629.55,408.30 633.55,408.30 635.05,412.70 637.55,420.30 656.05,420.30" fill="none" stroke="#bababa" stroke-width="0.55" stroke-linejoin="round"/>
<polyline points="610.35,407.30 621.55,408.30 624.55,410.30 629.55,409.80 632.55,407.80 635.05,409.10 653.25,409.60 656.05,419.30" fill="none" stroke="#a0a0a0" stroke-width="0.65" stroke-linejoin="round"/>
<polyline points="610.35,406.50 630.05,406.10 632.45,396.30 634.85,408.60 653.25,409.40 656.35,420.60" fill="none" stroke="#707070" stroke-width="0.75" stroke-linejoin="round"/>
<polyline points="610.35,406.20 630.05,405.70 632.45,395.30 634.85,408.40 653.25,409.20 656.35,420.60" fill="none" stroke="#1a1a1a" stroke-width="0.9" stroke-linejoin="round"/>
<polyline points="610.35,406.20 630.55,406.20 632.45,394.80 634.05,408.80 653.25,409.20 655.05,421.10" fill="none" stroke="#ff3030" stroke-width="0.75" stroke-dasharray="1.1,0.55"/>
<rect x="448.2" y="392.6" width="23.4" height="31.4" fill="#fff" stroke="#d0d0d0" stroke-width="0.6" rx="0.8"/>
<line x1="450.2" y1="396.5" x2="457.6" y2="396.5" stroke="#ff3030" stroke-width="0.9" stroke-dasharray="1.8,0.9"/>
<text x="459.2" y="397.9" font-size="4.0" font-family="Liberation Sans, sans-serif" fill="#111">G.T.</text>
<line x1="450.2" y1="401.4" x2="457.6" y2="401.4" stroke="#dedede" stroke-width="0.715"/>
<text x="459.2" y="402.8" font-size="4.0" font-family="Liberation Sans, sans-serif" fill="#111"><tspan font-style="italic">n</tspan> = 1</text>
<line x1="450.2" y1="406.3" x2="457.6" y2="406.3" stroke="#bababa" stroke-width="0.715"/>
<text x="459.2" y="407.7" font-size="4.0" font-family="Liberation Sans, sans-serif" fill="#111"><tspan font-style="italic">n</tspan> = 7</text>
<line x1="450.2" y1="411.2" x2="457.6" y2="411.2" stroke="#a0a0a0" stroke-width="0.845"/>
<text x="459.2" y="412.6" font-size="4.0" font-family="Liberation Sans, sans-serif" fill="#111"><tspan font-style="italic">n</tspan> = 13</text>
<line x1="450.2" y1="416.1" x2="457.6" y2="416.1" stroke="#707070" stroke-width="0.975"/>
<text x="459.2" y="417.5" font-size="4.0" font-family="Liberation Sans, sans-serif" fill="#111"><tspan font-style="italic">n</tspan> = 19</text>
<line x1="450.2" y1="421" x2="457.6" y2="421" stroke="#1a1a1a" stroke-width="1.17"/>
<text x="459.2" y="422.4" font-size="4.0" font-family="Liberation Sans, sans-serif" fill="#111"><tspan font-style="italic">n</tspan> = 21</text>
<rect x="662.2" y="392.6" width="30" height="31.4" fill="#fff" stroke="#d0d0d0" stroke-width="0.6" rx="0.8"/>
<line x1="664.2" y1="396.5" x2="671.6" y2="396.5" stroke="#ff3030" stroke-width="0.9" stroke-dasharray="1.8,0.9"/>
<text x="673.2" y="397.9" font-size="4.0" font-family="Liberation Sans, sans-serif" fill="#111">G.T.</text>
<line x1="664.2" y1="401.4" x2="671.6" y2="401.4" stroke="#dedede" stroke-width="0.715"/>
<text x="673.2" y="402.8" font-size="4.0" font-family="Liberation Sans, sans-serif" fill="#111"><tspan font-style="italic">n</tspan> = 1</text>
<line x1="664.2" y1="406.3" x2="671.6" y2="406.3" stroke="#bababa" stroke-width="0.715"/>
<text x="673.2" y="407.7" font-size="4.0" font-family="Liberation Sans, sans-serif" fill="#111"><tspan font-style="italic">n</tspan> = 7</text>
<line x1="664.2" y1="411.2" x2="671.6" y2="411.2" stroke="#a0a0a0" stroke-width="0.845"/>
<text x="673.2" y="412.6" font-size="4.0" font-family="Liberation Sans, sans-serif" fill="#111"><tspan font-style="italic">n</tspan> = 13</text>
<line x1="664.2" y1="416.1" x2="671.6" y2="416.1" stroke="#707070" stroke-width="0.975"/>
<text x="673.2" y="417.5" font-size="4.0" font-family="Liberation Sans, sans-serif" fill="#111"><tspan font-style="italic">n</tspan> = 19</text>
<line x1="664.2" y1="421" x2="671.6" y2="421" stroke="#1a1a1a" stroke-width="1.17"/>
<text x="673.2" y="422.4" font-size="4.0" font-family="Liberation Sans, sans-serif" fill="#111"><tspan font-style="italic">n</tspan> = 21</text>
</svg>
</body></html>
